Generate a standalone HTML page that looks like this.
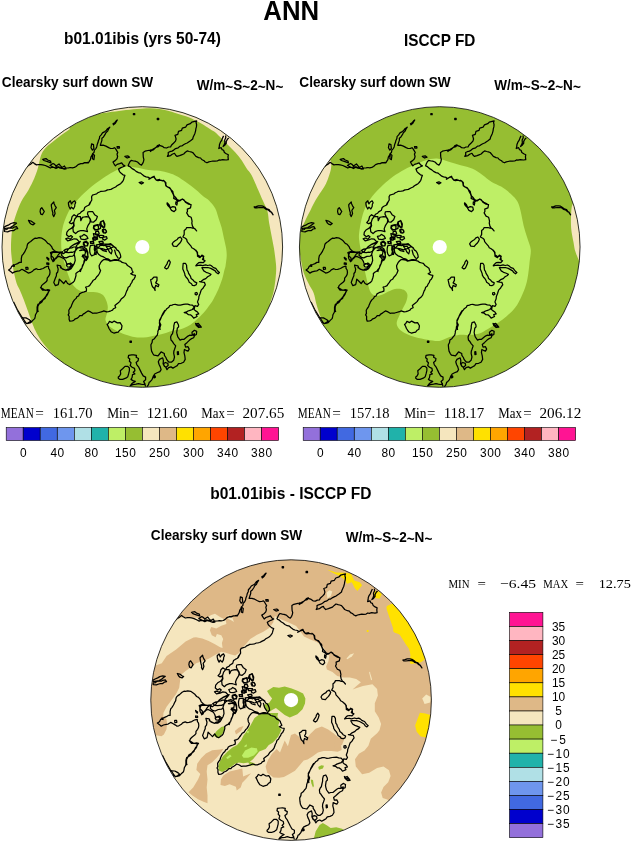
<!DOCTYPE html><html><head><meta charset="utf-8"><title>ANN</title><style>html,body{margin:0;padding:0;background:#fff}svg{display:block}.b{font-family:"Liberation Sans",sans-serif;font-weight:bold;fill:#000}.s{font-family:"Liberation Serif","DejaVu Serif",serif;fill:#000}.n{font-family:"Liberation Sans",sans-serif;fill:#000}</style></head><body><svg width="632" height="841" viewBox="0 0 632 841">
<clipPath id="clip"><circle r="140.3"/></clipPath>
<rect width="632" height="841" fill="#fff"/>
<text class="b" x="263.3" y="19.6" font-size="28.2" textLength="55.8" lengthAdjust="spacingAndGlyphs">ANN</text>
<text class="b" x="64" y="44.4" font-size="15.8" textLength="156.9" lengthAdjust="spacingAndGlyphs">b01.01ibis (yrs 50-74)</text>
<text class="b" x="404.1" y="46.2" font-size="15.9" textLength="71.2" lengthAdjust="spacingAndGlyphs">ISCCP FD</text>
<text class="b" x="1.8" y="87.2" font-size="14.8" textLength="151.4" lengthAdjust="spacingAndGlyphs">Clearsky surf down SW</text>
<text class="b" x="196.7" y="89.6" font-size="14.8" textLength="86.6" lengthAdjust="spacingAndGlyphs">W/m<tspan dy="2.2">~</tspan><tspan dy="-2.2">S</tspan><tspan dy="2.2">~</tspan><tspan dy="-2.2">2</tspan><tspan dy="2.2">~</tspan><tspan dy="-2.2">N</tspan><tspan dy="2.2">~</tspan></text>
<text class="b" x="299.3" y="87.2" font-size="14.8" textLength="151.4" lengthAdjust="spacingAndGlyphs">Clearsky surf down SW</text>
<text class="b" x="494.2" y="89.6" font-size="14.8" textLength="86.6" lengthAdjust="spacingAndGlyphs">W/m<tspan dy="2.2">~</tspan><tspan dy="-2.2">S</tspan><tspan dy="2.2">~</tspan><tspan dy="-2.2">2</tspan><tspan dy="2.2">~</tspan><tspan dy="-2.2">N</tspan><tspan dy="2.2">~</tspan></text>
<text class="b" x="150.8" y="540.2" font-size="14.8" textLength="151.4" lengthAdjust="spacingAndGlyphs">Clearsky surf down SW</text>
<text class="b" x="345.7" y="542" font-size="14.8" textLength="86.6" lengthAdjust="spacingAndGlyphs">W/m<tspan dy="2.2">~</tspan><tspan dy="-2.2">S</tspan><tspan dy="2.2">~</tspan><tspan dy="-2.2">2</tspan><tspan dy="2.2">~</tspan><tspan dy="-2.2">N</tspan><tspan dy="2.2">~</tspan></text>
<text class="b" x="210.2" y="499.1" font-size="15.8" textLength="161.2" lengthAdjust="spacingAndGlyphs">b01.01ibis - ISCCP FD</text>
<g transform="translate(142.3,247.0)"><g clip-path="url(#clip)"><circle r="141.3" fill="#96BE32"/><path d="M-72.3,-118C-74.8,-116.2 -82.8,-110.7 -87.3,-107C-91.8,-103.3 -96.6,-100.3 -99.5,-95.6C-102.4,-90.8 -103.1,-83 -104.5,-78.5C-105.9,-74 -106.6,-72.1 -108.1,-68.5C-109.7,-64.9 -111.7,-60.8 -113.8,-57C-115.9,-53.2 -118.8,-50 -120.9,-45.7C-123,-41.4 -125.1,-36.2 -126.6,-31.4C-128.2,-26.6 -129.4,-22.4 -130.2,-17.1C-131,-11.8 -131.3,-4.3 -131.3,0.6C-131.3,5.5 -130.8,8.5 -130.4,12.5C-130,16.5 -129.4,20.4 -128.6,24.3C-127.8,28.3 -126.7,33.1 -125.7,36.2C-124.7,39.3 -123.7,40.3 -122.5,43C-121.3,45.7 -119.9,49.1 -118.6,52.5C-117.3,55.9 -115.9,59.9 -114.6,63.6C-113.3,67.3 -112,71.2 -110.7,74.6C-109.4,78 -108.3,80.9 -106.7,84.1C-105.1,87.3 -103.2,90.7 -101.2,93.6C-99.2,96.5 -97.2,98.9 -94.8,101.5C-92.4,104.1 -90.1,106.6 -86.9,109.5C-83.7,112.4 -77.7,117.4 -75.8,119L-98,153.8L-196.4,196.4L-196.4,-196.4L-95.3,-155.5Z" fill="#F5E6BE"/><path d="M-42.3,-133.5C-34,-134.4 -5.9,-138.9 7.7,-138.7C21.3,-138.5 31.4,-134.3 39.3,-132.1C47.2,-129.9 49.9,-128.3 55.2,-125.6C60.5,-122.9 67.3,-118.4 71,-115.9C74.7,-113.4 74.9,-112.7 77.3,-110.4C79.7,-108.2 82.6,-105.1 85.2,-102.4C87.8,-99.8 90.7,-97.1 93.1,-94.5C95.5,-91.9 97.7,-89.2 99.5,-86.6C101.3,-84 102.6,-81.2 104.2,-78.7C105.8,-76.2 107.4,-75.3 109.3,-71.8C111.2,-68.3 113.8,-61.7 115.7,-57.5C117.6,-53.3 118.9,-50.1 120.5,-46.4C122.1,-42.7 124.1,-39.1 125.2,-35.4C126.2,-31.7 126.1,-28.3 126.8,-24.3C127.5,-20.3 128.4,-15.8 129.2,-11.6C130,-7.4 130.9,-3 131.6,1C132.2,5 132.7,8.7 133.1,12.1C133.5,15.5 133.9,18.1 133.9,21.6C133.9,25.1 133.5,29.1 133.1,33C132.6,36.9 132.1,41.1 131.2,45C130.3,48.9 128.3,54.6 127.7,56.5L166.8,73.8L196.4,196.4L196.4,-196.4L-55.1,-173.9Z" fill="#F5E6BE"/><path d="M-17.4,-80.3C-14,-80.8 -10.3,-80 -6.3,-79.5C-2.4,-79 2.4,-77.6 6.3,-77.1C10.2,-76.6 13.8,-76.8 17.2,-76.3C20.6,-75.8 23.8,-74.9 26.7,-74C29.6,-73.1 31.7,-72.4 34.6,-70.8C37.5,-69.2 40.9,-66.8 44.1,-64.5C47.3,-62.2 50.7,-59.7 53.6,-57.3C56.5,-54.9 59.3,-52 61.5,-50.2C63.7,-48.4 64.8,-48.4 66.7,-46.4C68.6,-44.5 71.4,-41.4 73,-38.5C74.6,-35.6 75.1,-32.2 76.2,-29C77.2,-25.8 78.4,-22.9 79.3,-19.5C80.2,-16.1 80.9,-11.9 81.7,-8.5C82.4,-5.1 83.3,-1.9 83.8,1C84.2,3.9 84.5,6.1 84.4,9C84.3,11.9 83.6,16.2 83.3,18.4C83,20.6 83,19.7 82.4,22C81.8,24.3 80.9,28.7 79.9,32.1C78.8,35.5 77.6,38.8 76.1,42.2C74.6,45.6 72.7,49.4 71,52.4C69.3,55.4 67.6,57.7 65.9,60C64.2,62.3 62.8,64.2 60.9,66.3C59,68.4 56.6,70.7 54.5,72.6C52.4,74.5 50.5,76.2 48.2,77.7C45.9,79.2 43.4,80.5 40.6,81.5C37.8,82.5 34.3,82.9 31.5,83.6C28.7,84.3 26.5,85.1 23.6,85.9C20.7,86.7 17.3,87.6 14.1,88.3C10.9,89 7.8,89.8 4.6,90.2C1.4,90.6 -2.2,90.7 -4.9,90.5C-7.6,90.3 -8.9,89.9 -11.6,89.2C-14.3,88.5 -18.2,87.3 -21.1,86.1C-24,84.9 -26.8,83.6 -29,82.1C-31.2,80.7 -33.2,79 -34.5,77.4C-35.8,75.8 -36.8,74.5 -36.9,72.6C-37,70.8 -35.7,68.4 -35.3,66.3C-34.9,64.2 -34.4,62.1 -34.5,60C-34.6,57.9 -35.3,55.6 -36.1,53.6C-36.9,51.6 -37.9,49.5 -39.3,48.1C-40.8,46.7 -42.6,45.9 -44.8,45.4C-47,44.9 -50.3,45 -52.7,44.9C-55.1,44.8 -57.1,45.3 -59.1,44.9C-61.1,44.5 -62.8,43.9 -64.6,42.6C-66.4,41.3 -68.7,39.1 -70.1,37C-71.6,34.9 -72.2,32.7 -73.3,29.9C-74.4,27.1 -75.6,23.3 -76.5,20.4C-77.4,17.5 -78.2,15.4 -78.9,12.5C-79.6,9.6 -80.5,6.6 -80.8,3C-81.2,-0.6 -81.2,-5.3 -81,-9C-80.8,-12.7 -80.5,-15.7 -79.7,-19.1C-79,-22.5 -77.8,-26 -76.5,-29.2C-75.2,-32.4 -73.9,-35.3 -72.1,-38.1C-70.3,-40.8 -68.1,-43.1 -65.8,-45.7C-63.6,-48.2 -61.7,-50.5 -58.6,-53.4C-55.6,-56.3 -51.2,-60 -47.5,-62.9C-43.8,-65.8 -39.8,-68.6 -36.4,-70.8C-33,-73 -30.1,-74.7 -26.9,-76.3C-23.7,-77.9 -20.8,-79.8 -17.4,-80.3Z" fill="#BEEF66"/><circle r="7.1" fill="#fff"/><path d="M-115.3,-80.2 -113.9,-81.6 -111.8,-82.7 -109.6,-84.7 -107.9,-83.4 -105.8,-82.1 -103.6,-82.5 -101.4,-82.4 -99.6,-82.2 -97,-81.5 -94,-80.1 -91.9,-79 -90.4,-79.7 -87.7,-79.5 -86.3,-79.8 -84.3,-80.2 -82.9,-79.2 -80.5,-78.6 -78,-78.3 -76.4,-79 -73.7,-79.1 -71.9,-79.5 -70,-79.2 -67.9,-79.6 -66.2,-80.5 -64.2,-82.4 -61.5,-83.4 -59.7,-83.5 -57.7,-84.3 -56,-84.4 -53.9,-84.7M-61.7,-83.5 -59.5,-83.3 -57.7,-84.2 -55.4,-84.1 -53.8,-84.2 -52.9,-85.8 -51.9,-87.4 -51.4,-89.8 -50.3,-91.6 -49.7,-93.2 -48.3,-94.5 -47.9,-96.9 -46.4,-98.4 -45.6,-100.1 -45.1,-102.4 -44.3,-104.4 -43.9,-106.3 -42.8,-108.7 -42.7,-110.4 -41.1,-112.1 -39.8,-114.1 -37.5,-115.4 -36.3,-116.2 -34.8,-118.3 -32.5,-119.8 -33.8,-117.8 -34.6,-115.9 -36.4,-114.3 -37.2,-112.6 -38.8,-110.1 -40.4,-108.8 -40.4,-106.6 -41.4,-103.6 -42,-101.7 -39.2,-101.8 -36.4,-100.9 -33.6,-99.4 -31.7,-98.5 -29.3,-98.6 -27.7,-99.3 -26.5,-97.9 -25.3,-95.9 -24.5,-94.5 -25.3,-92.9 -24.7,-90.5 -25.3,-88.2 -27.1,-86.4 -29.3,-85 -28.3,-83.2 -26.9,-81.1 -25.2,-82.6 -22.7,-83.4 -20.6,-84.2 -19.2,-82.1 -17.4,-81.1 -19.7,-80 -21.3,-79.4 -23.8,-77.9 -22.8,-75.4 -21.4,-74 -19.3,-72.2 -17.4,-71.6 -18.1,-69.8 -18.6,-67.7 -19.1,-66.4 -20.6,-64.5 -21.7,-63.3 -23.3,-62.4 -25.3,-61.3 -26.7,-60 -28.9,-59 -31.4,-57.6 -33.2,-57.3 -34.8,-57.1 -36.8,-56.1 -38.5,-55.9 -41.4,-55.7 -42.7,-55 -44.5,-54.2 -45.7,-53.1 -47.8,-52.5 -49.9,-51.8 -50.7,-50.2 -50.5,-47 -51.4,-45.5 -52.1,-44.1 -53,-42M-50.7,-103.2 -48.8,-102.4 -48.7,-100.9 -48.4,-98.5 -49.9,-96.9 -51.3,-99.3 -50.9,-101.7ZM-49.5,-92.9 -47.8,-91.7 -48.4,-87.4 -49.9,-88.2ZM-29.3,-123.3 -27.3,-124.6 -26.1,-126.2 -25,-127 -26.9,-123.8 -28.8,-122.2ZM-8.9,-133.5 -7.6,-133.5 -7.6,-132.3 -8.9,-132.3ZM15.2,-128.6 16.4,-128.6 16.4,-127.4 15.2,-127.4ZM-17.4,-90.6 -14.3,-91.1 -12.7,-89.8 -15.1,-89ZM-25.3,-100.5 -23,-100.5 -22.8,-99 -25,-99ZM-14.3,-81.1 -13.5,-82.9 -12.4,-85.2 -11.1,-86.6 -8.7,-86 -7.1,-85.8 -4.8,-85 -2.5,-82.8 -0.8,-81.9 0.5,-83.8 1.2,-85.6 1.6,-87.4 1,-89.8 0.9,-91.6 0.8,-94.5 2.7,-95.8 5.7,-96.5 7.9,-96.9 10.1,-97.5 12.6,-98.9 13.9,-99.7 15.3,-101.5 17.7,-102.4M-14.3,-81.1 -12.3,-80.3 -9.7,-78.1 -7.9,-77.1 -6.2,-75.6 -3.8,-74.4 -1.6,-73.9 0,-72.4 2,-70.8 3.8,-70.1 6.4,-69.6 7.9,-68.4 10.1,-70 11.8,-70.8 12.5,-68.6 14.2,-66.8 17.7,-67.6M-3.2,-64.5 -0.8,-65.1 1.2,-64.2 -0.8,-62.9ZM7.7,-95.3 9.6,-96.7 10.8,-97 12.4,-98.5 13.5,-99.7 16.1,-100.4 17.2,-101.7 20.1,-100.7 21.9,-99.3 24.3,-99 26.2,-100 28.3,-100.1 29.1,-101.8 31.4,-104 33.2,-105.9 33.8,-108 33.2,-110.2 32.7,-111.6 35.5,-112.6 36.2,-115.7 39.3,-116.7 40,-118.9 43.3,-119.8 44.7,-122.1 48,-123.3 49.5,-124.9 52.4,-125.7 54.4,-126.2 53.8,-124.5 54.3,-122.4 54.1,-120.1 53.6,-118.3 53.3,-116.2 52.6,-113.6 51.9,-112.1 50.8,-109.7 50.4,-108 48.2,-106.3 46.7,-105.3 44.9,-104 43.5,-103.5 41.6,-102.5 39.5,-101 37.8,-100.9 35.9,-99.2 33.3,-98.4 31.4,-96.9 29.7,-95.9 27.5,-95.3 25.9,-94.5 26,-92.4 25.1,-90.6 28.3,-91.4 29.9,-92.7 32.2,-93.7 33.2,-92 34.6,-90.6 37.3,-91.4 39.3,-92.2 41.4,-93 43.1,-94.7 44.9,-96.1 46.9,-95.5 48.6,-95.1 50.4,-94.5 52.4,-92.1 53.6,-90.6 56.3,-89.4 58.3,-89 59.4,-87.5 61.8,-86.3 62.5,-85.3 64.7,-84.2 66.5,-85.1 68.3,-85.5 70.7,-86 72.6,-85.8 75,-86 76.7,-87.1 78.2,-86.8 80.5,-87.4 83.9,-87 86,-87.4 85.7,-90.3 86,-92.2 84,-93.2 82.1,-94.5 81.3,-96.7 79.7,-97.4 78.9,-99.3 76.5,-98.5 77,-100.4 77.2,-102.6 78.1,-104.8 79.2,-106.3 80.2,-108.9 81.3,-111.1M83.3,-111.5 83.5,-109.3 82.4,-107 82.6,-104.1 81.8,-102.4 80.8,-100.5 82.4,-101.7 84,-103.8 83.9,-105.4 85.1,-107.8 86.5,-109.1M15,-128.7 16.2,-128.7 16.2,-127.4 15,-127.4ZM6.1,-67.6 7.7,-68.4 9.2,-69.3 11.7,-70 13.2,-68.2 14,-66.8 15.7,-66.3 18.4,-66.8 20.2,-66.1 21.9,-66.1 23,-64.4 23.5,-61.3 24.9,-60.1 27.3,-59.4 28.3,-58.1 29.5,-55.3 30.6,-53.4 31.6,-50.7 31.4,-48.6 34.1,-47.2 35.4,-45.5 37.5,-46.6 40.1,-47.9 42.5,-45.9 44.1,-44.7 46.2,-43.8 48.8,-42M111.8,-40.1 113.9,-40.4 116.1,-41.2 118.9,-41.2 120.8,-40.8 122.8,-39.5 124.5,-38.1 126.8,-37.3 127.9,-35.8 129.3,-34.4 130.8,-32.2 129.2,-34.9 127.7,-35.4 125.7,-37.2 123.7,-37.6 122.1,-39 120.2,-39.5 117.4,-39.5 114.5,-39.1 112.6,-39.2ZM20.4,-67 22,-65.8 23.5,-64.5 23.7,-62.1 24.2,-60.7 26.5,-59.4 28,-58.1 30.5,-55.6 30.9,-53.2 31.8,-51.2 33.3,-49.5 34.9,-47.4 37.4,-46.1 40,-48 41.6,-47.1 43.1,-44.8 46.3,-42.9 48.8,-42.3 48.2,-39.2 45,-37.9 45.2,-35.7 44.4,-34.1 46.3,-30.9 48.8,-29.7 49.3,-28.1 49.8,-25.6 49.5,-24 50.1,-21.1 51.4,-18.9 52.8,-17.9 54.3,-16.1 52.3,-18.5 50.2,-18.8 48.2,-19.5 44.4,-19.5 43.5,-17.7 41.9,-16.4 41.9,-12.6 40.6,-10 43.1,-8.7 44.4,-7.5 44.9,-5.3 46.3,-3.7 48.5,-1.2 49.5,0.7 51.4,1.7 53.3,3.3 54.7,5.1 55.2,7.7 57.7,9.6 60.9,8.9 61.2,11 61.5,13M24.8,-44.2 26.7,-42.3 28,-39.2 30.5,-40.4 33,-39.8 33.6,-37.3 31.8,-35.4 29.2,-36.6 27.3,-39.8 25.8,-41.1 24.8,-42.9ZM33.6,-45.2 35,-44.2 34.5,-41.9 33.4,-42.9ZM29.9,-3.1 30.9,-4.8 32.8,-6.3 34.9,-7.5 35.8,-8.9 38.1,-10 39.6,-7.8 38.9,-5.9 37.4,-3.7 35.8,-2.2 34.3,-0.5 31.1,-0.9ZM53.3,3 55.2,5.5 55.2,9.3 57.7,10.6 59.6,8.1 61.5,9.3 60.2,12.5 62.8,13.8 60.9,15.7 58.5,15.4 56.4,15.7 54.5,17.4 53.5,18.8 55.7,18.4 58.3,18.2 60.4,18.7 63.4,17.9 65.4,18.5 67.6,18 69.1,18.8 71.2,20.6 73.5,21.4 75.4,24 77.1,25.5 75.8,26.8 74,25.6 72.9,23.9 70.3,22.4 68.5,21.4 65.6,20.5 63.4,20.5 61.1,20.5 59.6,20.7 61.5,23.9 63.8,25.3 65.9,26 68.7,27.3 67.6,28.5 65.3,29.8 63.5,31.6 60.9,32.7 59,34.3 57.3,34.6 59.9,35.1 62.1,35.3 63,37.8 61.7,39.5 60.9,41 59,42.9 58.5,44.3 57.7,46.7 56.6,49.4 56.4,51.7 55.2,54.9 56.4,57.4 55.2,59.3 52.6,58.7 52.2,60.6 51.8,62.5 53,63.6 55.2,65 56.4,66.9 53.9,67.6 54.8,69.5 51.4,71.1 50.2,69.5 48.2,67.8 46.2,67.7 44.4,66.2 41.9,65.7 44.3,64.9 45.7,64 47.8,63.3 50.1,62.5 52,60 50.1,58.1 47.6,57.8 45.4,57.1 43.1,57.2 41.1,57.4 38.1,58.1 35.8,58.2 33,57.4 31.2,57.5 29.7,58.1 27.3,58.7 26.6,60.3 24.5,61.7 23.5,63.1 22.2,64.7 21,66.9 19.7,68.8 18.7,70.6 17.2,73.3 17.3,75.3 18.5,77.7 17.5,80.9 17.8,83M52.9,45.8 54.5,45.5 55.2,47.1 53.9,48.1 52.8,47.3ZM40.9,16.3 43.1,16.3 44.3,18.3 44.4,20.7 44.8,23.2 45.7,24.3 46.3,26.4 48.2,29.4 48.8,31.5 50.7,32.9 52,34.6 54.5,35.9 53.9,37.8 52.1,38.6 50.1,38.4 49.2,36.8 46.9,35.3 46.2,33.4 45.1,31.5 43.8,30.2 42.6,28.1 42.5,26.9 41.6,24.5 40.5,22.1 40.6,19.5ZM22.3,20.7 23.3,19 24.8,16.9 25.3,15 26.7,13.1 28,15 27.4,17.3 26.7,18.8 25.7,21 24.2,22ZM8.3,32.7 9.9,32 11.5,30.2 14.7,30.2 14.7,33.4 13.4,35.9 16.6,37.8 15.9,39.7 13.4,38.4 12.5,41.2 12.8,43.5 12,41.5 10.2,39.7 9.5,38 9,35.9ZM53.3,76.4 55.3,78 57.7,78.3 59,80.2 56.4,80.5 53.9,78.3ZM49.7,85.2 52.1,83.3 54.4,84.4 54.1,87.5 51.8,88.6 49.9,87.5ZM54.4,76.9 56,76.4 58.1,78.8 57.3,80.4 55.5,79.1ZM-12.3,94 -10.9,94 -10.9,95.3 -12.3,95.3ZM-41.7,15.7 -40.3,14 -38.5,12.5 -36.8,12.6 -33.8,13.2 -32.2,14.1 -29.8,13.6 -28.5,13.4 -26.5,13.5 -24.3,13.3 -21.8,14.1 -20.2,15.4 -18,16 -16.4,16.4 -14.8,18.5 -13.2,19.5 -10.8,21.2 -10.3,23.2 -9.2,25.2 -11.6,26.7 -9.2,27.9 -6.9,28.3 -7.2,29.9 -8.4,32.3 -9.7,33.3 -10.4,35.3 -11.6,37 -12.6,39.2 -14.1,40.2 -14.8,42.6 -15.7,44.1 -16.4,46.1 -17.1,48.1 -18.5,50 -21.1,52.1 -22.7,54.6 -24.3,56 -25.6,57 -27.4,58.4 -26.6,60.8 -28.9,61.8 -29.8,63.1 -31.4,63.8 -33.8,64.7 -35.7,64.8 -38.5,63.9 -40.3,64.7 -43.2,65.5 -45.1,66 -47.9,66 -49.6,66.3 -51.7,64.9 -54.3,63.9 -55.9,65.1 -57.3,66.1 -59.1,67.1 -60.2,68.5 -62.3,68.5 -63.8,70.2 -65.5,71.4 -67,71.8 -68.6,73.4 -70.2,74 -72.5,74.2 -73.2,72.2 -73.1,69.5 -74.1,67.9 -73.3,66.4 -73.5,63.3 -72.5,61.5 -71.1,59.7 -70.6,57.9 -69.4,55.2 -67.9,52.9 -66.2,51.4 -65.4,49.7 -63.7,49 -62.8,46.9 -60.7,45.7 -58.1,44.9 -55.9,44.1 -55.8,41.8 -56.7,40.2 -54.4,39.5 -52.7,38.6 -51.6,36.9 -50.4,35.4 -49,33.2 -47.2,32.3 -45.5,29.7 -44,28.3 -42.8,26.3 -41.7,23.6 -42.8,21.6 -43.2,18.8ZM-52,-45 -53.6,-41.8 -55.9,-40.7 -57.6,-39.5 -58.4,-36.7 -61.1,-35.1 -62.1,-33.8 -64.3,-32.7 -65.5,-30.4 -68.2,-32.3 -70.2,-30.4 -71,-26.8 -73,-24.4 -71,-23.2 -69,-24.4 -68.6,-21.3 -70.6,-18.9 -73.4,-17.3 -75.4,-14.9 -75.8,-12.2 -73.4,-10.2 -71.4,-11.4 -69.8,-10.2 -71.8,-7.8 -74.6,-9 -76.6,-8.2 -74.6,-6.2 -71,-7 -68.2,-8.2 -65.5,-7.8 -63.1,-5.4 -64.7,-3.9 -67.9,-2.7 -71,-0.7 -73.4,1.7 -76.6,2.5 -78.9,4.1M-65.5,-30.4 -61.9,-30.4 -61.7,-28.3 -61.5,-26.4 -59.9,-29.6 -58.3,-30 -56,-30.4 -53.6,-30 -52,-27.2 -52.4,-24.4 -54.4,-21.3 -55.6,-18.1 -54.8,-15.3 -57.6,-16.1 -59,-16.4 -61.5,-16.5 -64.7,-15.3 -66.7,-13.4 -69,-15.3 -69.4,-18.9 -68.2,-21.3 -68.6,-24.4 -67.5,-28ZM-54.4,-35.1 -52.1,-35.5 -49.7,-35.5 -47.7,-32.3 -44.9,-30.4 -46.1,-27.2 -48.9,-24.8 -51.2,-25.2 -52,-28 -53.6,-30.4 -54.8,-33.1ZM-62.3,-10.6 -59.9,-11.2 -58.4,-12.6 -55.6,-11 -54.4,-8.6 -57.6,-7.4 -61.1,-7.8ZM-58.8,-4.7 -56,-5.8 -54,-3.9 -54.8,-1.1 -57.6,-1.5ZM-41.7,-25.2 -39,-26.4 -37.8,-21.3 -38.6,-18.9 -41,-21.3 -42.5,-22.8ZM-48.5,-21.3 -45.7,-22.1 -43.7,-20.5 -44.1,-17.3 -47.3,-16.9 -48.9,-18.9ZM-39.4,-17.3 -37,-17.7 -35.8,-14.9 -38.2,-13.8ZM-48.9,-13.4 -44.1,-12.6 -44.5,-10.2 -48.1,-10.2ZM-49.7,-9 -46.1,-9 -46.5,-7 -49.3,-7ZM-43.3,-11.8 -38.6,-11.4 -39,-9.4 -42.5,-9.4ZM-52,-5.4 -48.9,-5.4 -49.3,-3.5 -51.6,-3.5ZM-45.5,1.2 -43.7,0.3 -42.4,-1.4 -40.7,-1.9 -38.3,-1.3 -36.7,-2 -34.8,-2.7 -31.6,-3.3 -29.8,-1.7 -28.4,-0.6 -26.5,1.2 -25.2,3.1 -24.1,3.6 -22.7,5.6 -21.9,7.7 -21.5,10 -22.7,11.2 -24,13.2 -26.1,12.5 -27.8,12.6 -29.4,13.1 -31.6,13.8 -33.6,12.2 -36.7,11.3 -38.7,9.9 -41.7,8.8 -43.8,7.2 -44.9,5.6 -45.5,2.9ZM-51.9,-1.4 -50.3,-1.6 -48.1,-2 -47.1,0 -46.8,2.4 -47.4,5.5 -47.4,7.5 -50.6,8.8 -51.9,7.2 -52.5,5 -52.6,2.3 -52.5,1.2ZM-79.3,4.6 -81.8,5.3 -85.6,5.3 -88.1,3.4 -89.8,1.8 -90.7,-0.4 -92.6,-2.7 -94.5,-3.6 -96.6,-6.2 -98.3,-7.4 -100.4,-8.8 -103.3,-9.3 -105.6,-8.7 -107.1,-8.9 -109,-7.8 -111.6,-5.5 -113.2,-4.5 -114.7,-3 -115.2,-1.2 -115.4,0.5 -116.6,2.7 -117.6,4.9 -119.1,7.2 -120.4,8.7 -121,11.6 -121,15.4 -122.8,15.4 -124.8,16.6 -127,17.5 -128.6,17.9 -130.5,19.3 -131.6,21.6 -133.7,23 -131.3,24.8 -129.9,26.1 -127.7,24.9 -124.8,24.2 -123,24 -120.4,22.3 -117.9,23.6 -115.6,25 -114.1,26.1 -112.3,25.7 -109.7,24.2 -108.5,22.8 -105.9,21.7 -104.3,22.5 -102.1,22.3 -99.3,21.5 -97.6,20.4 -96,19.7 -93.8,19.2 -93.7,21.4 -92.6,23 -92.3,25.4 -92.6,27.4 -93.5,29.2 -95.1,31.2 -95.2,33.5 -96.4,35 -98.9,36.9 -100.7,38.6 -101.4,40.7 -98.3,42.6 -96.9,43.3 -94.5,42.7 -92.6,43.2 -94.2,45.3 -94.5,47 -95.7,48.8 -97.6,50.8 -99.1,52.5 -100.8,54 -102.3,55 -103.3,57.2 -104.4,59.2 -104.6,60.9 -104.6,63.3 -104,65M-116.5,20.4 -114.5,20.4 -114.2,22.2 -116.2,22.5ZM-129.1,17.9 -127.9,18.2 -128.1,19.4 -129.3,19.2ZM-95.5,10.3 -93.5,11.8 -93.7,13.1 -95.2,11.6ZM-95.5,15.9 -93.5,16.1 -93.5,17.4 -95.5,17.2ZM-85.6,5.3 -87.6,5.1 -90,5.3 -91.3,8.4 -88.8,10.9 -88.8,12.8 -89.4,14.7 -88.1,13.8 -87,11.4 -85.6,10.3 -84.8,9 -83.5,7 -81.8,5.9M-91.9,5.5 -89.2,4.6 -87.4,4.4 -84,5.2 -81.9,5 -78.6,6.6 -77.4,5.5 -75.3,4.4 -74.2,2.4 -72.5,1.1 -70.5,0.8 -68.6,0 -66.5,-0.1 -64.2,0.5 -61.8,1 -59.8,1.1 -57.6,2.6 -55.9,3.3 -54.8,6.6 -54.2,9.9 -55.9,13.3 -57.5,12.1 -58.2,13.9 -58.6,16.6 -59.8,18.4 -60.3,21 -61.7,22.5 -63.1,24.3 -64.6,25 -66.4,26.5 -66.3,28.5 -67,31 -67.9,33.8 -69.2,35.4 -70.7,36.3 -72.5,37.6 -74.7,36.5 -76.4,33.7 -78.6,36.5 -80.8,34.3 -83,32.1 -83.6,35.6 -84.1,37.6 -86.9,38.7 -88.5,35.4 -87.8,33.5 -86.9,31 -85.9,28.7 -85.8,26.5 -84.6,25 -84.1,22.1 -84.8,19.9 -85.2,18.2 -81.9,18.8 -80.9,21 -79.7,22.1 -76.4,23.2 -74.8,22 -72.5,21.6 -71.7,19.7 -69.7,17.7 -71.9,16 -75.3,17.7 -76.4,14.4 -77.7,12.2 -79.7,11 -83,9.4 -84.9,10 -86.3,11.6 -88.2,12.3 -89.7,13.8 -90.9,11.7 -91.3,9.9 -91,8.1ZM-102,40 -100.9,41.7 -99.7,43.2 -97.6,43.1 -95.7,43.2 -93.3,44 -94.2,46 -95.4,47.3 -96.5,49.5 -97.2,51.5 -99.1,52.8 -100.4,55 -102,56.2 -104.4,57.4 -105.2,60.2 -105.2,62.9 -105.3,65 -106.8,67.7 -107.1,69.7 -107.6,71.6 -109.3,73.1 -111.5,75.6 -114.1,76.4 -116.3,76.4M-121.5,71 -119.2,70.8 -116.3,70.9 -114.2,72 -112.9,72.8 -111.5,74 -113.3,75.4 -115.5,76.7 -117.5,75.3 -119,75.1 -120.2,73.5ZM-91,-42.4 -88.5,-45 -88.2,-43.3 -87.2,-41.2 -86,-39.3 -87.9,-36.7 -87.2,-33.6 -88.5,-30.4 -89.6,-32.5 -89.4,-34.2 -90.1,-36.4 -90.4,-38 -90.9,-40.6ZM-101.8,-38 -100.5,-39.3 -99.4,-37.7 -98,-35.5 -99.9,-32.3 -101.5,-32.9 -102.2,-35.5ZM-113.8,-26.6 -111.3,-26 -109.1,-24.4 -107.5,-23.5 -109.1,-22.2 -111.2,-22.9 -112.6,-24.3ZM-138.5,-19.7 -136,-21.1 -133.4,-22.2 -131.3,-23.5 -128.4,-24.3 -125.8,-23.8 -128.1,-22.1 -129.6,-20.9 -132,-19.5 -134.7,-19 -137.9,-18.4ZM-137.9,-17.1 -135.4,-17.5 -134.6,-18.6 -132.2,-19 -129.5,-19 -128.4,-19.8 -125.8,-20.3 -124.6,-18.4 -126.6,-18 -128.4,-16.5 -130.7,-16.5 -132.3,-16.1 -134.7,-15.2 -137.9,-15.5ZM-73.9,-44.3 -72,-46.2 -70.8,-43.1 -69.5,-45 -67.6,-46.2 -66.6,-44.3 -67.4,-42.8 -67.6,-40.5 -68.9,-38 -70.8,-39.9 -72,-38 -73.3,-40.5 -73.8,-42.7ZM-99.6,-87.7 -96.3,-88.4 -94.6,-87 -91.8,-86 -91.3,-84.1 -94.8,-85.3 -98.3,-86.5ZM-92.3,-81.5 -89.3,-83.5 -87.7,-82.6 -86.3,-81 -83.3,-83 -81.9,-81.3 -80.3,-79.5 -77.8,-81 -76.3,-78 -78.1,-77.8 -80.3,-78.5 -83.3,-80 -86.3,-78.5 -89.3,-80ZM-41.5,-24.9 -39,-26.5 -37.4,-23 -37.7,-19.9 -39.6,-20.5 -41.2,-22.4ZM-48.1,-20.5 -44.7,-22.4 -41.5,-21.5 -41.8,-18.6 -44.7,-17.3 -47.2,-17.7 -48.5,-18.9ZM-39.9,-17.3 -37.1,-17.7 -35.8,-15.8 -36.7,-13.9 -39,-14.2 -39.9,-15.8ZM-49.1,-9.7 -45.3,-10.1 -44.7,-7.8 -47.8,-7.2 -49.4,-8.2ZM-51.6,-5.3 -48.8,-5.6 -48.5,-3.7 -51,-3.4ZM-39.6,-9.7 -35.8,-10.4 -35.2,-8.5 -37.7,-6.9 -39.6,-7.8ZM-43.4,-5.3 -39.6,-5.9 -39,-4.1 -42.1,-3.4ZM-46.6,-15.4 -44,-15.8 -43.1,-13.5 -44.7,-11.6 -46.9,-12.3ZM-45.9,-2.2 -41.5,-2.8 -35.2,-2.8 -30.1,-1.8 -26.3,1 -28.8,-0.3 -32.6,1.6 -36.4,2.9 -40.2,1.6 -44.7,1ZM3.3,139.6 2.5,136.8 1.3,134.4 3.3,132.8 3.3,130.1 0.9,128.9 -0.7,126.1 -2.3,122.9 -3.8,119.8 -5.4,117.8 -6.2,115.4 -4.2,113.8 -3.8,111.5 -6.2,110.3 -5.8,108.3 -8.6,107.8 -10.6,107.9 -13.7,108.3 -14.1,110.7 -12.5,111.9 -12.9,114.2 -11.3,115.8 -12.1,118.6 -10.2,120.2 -7.8,121.4 -7.4,123.7 -9,125.3 -7.4,126.9 -9.8,127.7 -10.2,130.5 -11.3,132.4 -9.4,133.6 -7,134.4 -9,135.6 -10.6,136.8 -12.1,138.8 -9.4,137.6 -6.2,137.2 -3.8,136.6 -1.5,137.2 0.4,137.5 3.3,137.2M-24,130.1 -22.7,129 -21.6,126.9 -22,123.7 -19.7,121.8 -17.3,119.4 -14.5,119.4 -12.9,121 -12.9,123.7 -13.7,126.9 -14.5,129.7 -16.5,131.2 -19.7,132.4 -22.4,132.4 -24,131.2ZM11.4,129.3 12.6,129 12.9,130.4 11.8,130.9ZM22.8,63 21.6,64.8 20.7,66.4 19.6,68.5 18.9,70.5 18.1,72.4 17.3,74.1 17.1,76 17.4,78.2 16.7,79.7 16.5,82 15.6,84.3 15.5,85.9 14.9,88.3 13.6,89.6 12.1,91.7 10.1,93.1 9.8,95.5 8.6,97.8 8.7,99.4 8.9,101.6 9.3,104.1 10.5,106.5 11.7,108.1 13.3,108.4 15.7,108.9 17.2,107 18.8,104.9 22,106.5 22.1,108.3 23.6,110.5 24.5,112.7 25.6,114 26.8,115.2 29.1,115.2 31.4,113.2 32.2,110 31.4,106.4 31.6,103.9 32.2,102.5 33.4,98.9 31.4,96.6 29.9,94.2 28.7,93 28.3,89.9 29.3,87.6 30.2,86.7 30.7,84.4 31.5,81 31.5,78.8 32.3,75.7 34.7,74.9 36.2,78 36.3,79.9 35,81.3 34.7,83.6 34.4,85.5 34.8,87.5 35.5,89.9 36.9,91.8 37.8,93.1 39.5,92.4 41.8,92.3 43.6,90.8 45.7,89.1 47.3,88.2 49.7,88.3 52.1,86.7 52,89.2 51.3,90.7 48.8,91.9 47.3,93.1 44.9,95.4 42.5,97.4 43.3,100.1 45.7,99.7 46.9,102.1 45.7,104.1 43.7,103.3 42.1,102.5 41.7,105.7 42.5,108.8 42.9,112.4 41.3,115.2 38.9,116.3 36.2,116.7 34.9,118.6 33.4,119.5 30.6,121.1 28.7,119.9 26.3,120.7 24.7,122.7 23.5,120.3 21.9,119.1 20.8,116.7 21.1,113.6 20.4,110.8 17.2,112.4 16,114.8 16.8,117.5 18,119.9 18.8,122.7 17.6,124.6 14.8,125.8 12.4,127 10.9,129.4 9.7,132.6 7.7,134.9 7,135 6.2,137.6 4.6,139.8M21.1,116.7 23.1,115.5 25.5,116.3 25.9,118.3 24.3,119.9 22.3,119.5ZM35,104.9 36,104.7 36.3,107.4 35.2,107.7ZM11.7,129.2 12.8,128.9 13.1,130.2 12,130.5ZM-36.7,-1.6 -35.6,0.3 -34.1,2.4 -32.9,5 -31,6.9 -30.1,3.7 -31.5,1 -32.6,-0.7 -35.2,-0.8ZM-42.4,1.2 -39.2,3.7 -35.4,4.7M-27.8,2.7 -26.5,7.5 -24,11.3M-47.8,-1.1 -45.5,-0.6 -45.6,1.4 -45.3,3.7 -46,5.3 -46.2,7.5 -47.9,6.7 -47.3,4.7 -48,2.5 -47.9,1.2ZM-128.7,55.1 -125.2,62.3 -120.9,69.4 -115.9,76.6M-35.2,77.5 -34,76.5 -32.8,74.4 -30.1,75.6 -28.1,74.1 -24.9,75.9 -22.2,75.6 -20.3,78.8 -20.9,82.3 -22.6,83.2 -24.1,85.1 -26.6,85.7 -28.1,86.2 -31.2,84.7 -33.3,81.5 -34.2,79.3ZM-63.1,3.8 -61.7,3.2 -59.2,2.7 -56.7,4.4 -57.3,7.5 -60.3,8.3M-59.2,10.5 -56.4,9.9 -54.8,11.6 -56.4,13.8M-82.3,20.4 -79.8,21.7 -77.2,23 -73.4,23 -71.2,21.7 -69.6,19.2 -68.1,16.6 -67.1,13.5 -67.4,10.3 -68.1,7.2 -67.1,4 -65.2,1.5 -62,-0.1 -60.4,-0.6 -58.2,0.2 -55.7,2.1 -54.5,5.3 -54.5,9.1 -55.4,12.2 -57.3,13.5 -58.2,15.4 -59.2,17.9 -60.5,21.1 -61.4,22.9 -62,25M-62,3.7 -58.9,3 -57,4M-60.1,9.4 -58.2,8.7 -56,9.4 -55.7,11.6 -57,12.8 -57.9,11.6 -59.2,10ZM-78.2,3.4 -76,2.1 -72.8,1.5 -71.9,-0.1 -69.6,-1.7 -67.7,-3 -64.9,-4.2 -62,-5.5 -63.3,-3.6 -65.8,-1.4 -66.5,0.9 -66.4,2.3 -67.4,4.3 -69.6,5.3 -71.1,5.2 -73.4,5.6 -76.6,5.3ZM-82.3,5.3 -80.4,5.9 -80.7,8.4 -78.5,10.3 -76,10.9 -72.8,9.4 -69.6,9.1 -68.1,7.8M-76,17.9 -74.1,16.6 -71.9,17.3 -71.2,18.9 -72.8,20.1 -75,19.8ZM-58.9,-4.2 -56.4,-4.9 -54.5,-3.3 -55.1,-1.4 -57.3,-0.8 -58.9,-2.3Z" fill="none" stroke="#000" stroke-width="1.25" stroke-linejoin="round"/></g><circle r="140.3" fill="none" stroke="#111" stroke-width="0.85"/></g>
<g transform="translate(439.75,247.0)"><g clip-path="url(#clip)"><circle r="141.3" fill="#96BE32"/><path d="M-108.8,-86C-108.7,-85.4 -108.4,-83.6 -108.4,-82.2C-108.5,-80.8 -108.5,-79.4 -108.9,-77.5C-109.3,-75.6 -110.1,-73.2 -110.9,-70.8C-111.7,-68.4 -112.6,-65.6 -113.8,-63.2C-114.9,-60.8 -116.5,-58.7 -117.9,-56.5C-119.4,-54.3 -120.9,-52.1 -122.2,-49.9C-123.6,-47.7 -124.9,-45.4 -126.1,-43.2C-127.3,-41 -128.3,-38.7 -129.4,-36.5C-130.6,-34.3 -131.7,-32 -132.8,-29.9C-133.8,-27.8 -134.7,-25.9 -135.6,-24.1C-136.6,-22.3 -138.1,-19.8 -138.6,-19L-180.7,-24.8L-143.1,-113.1Z" fill="#F5E6BE"/><path d="M-140.4,5C-140.3,5.5 -140,5.9 -139.6,8C-139.1,10.1 -138.6,14.3 -137.9,17.5C-137.3,20.7 -136.8,23.8 -135.6,27C-134.5,30.2 -132.8,33.4 -131.2,36.6C-129.7,39.8 -127.3,42.9 -126.1,46.1C-124.8,49.3 -124.6,52.4 -123.8,55.6C-122.9,58.8 -121.8,62.3 -120.9,65.1C-119.9,67.9 -118.7,71.3 -118.2,72.5L-155.5,95.3L-182.3,6.5Z" fill="#F5E6BE"/><path d="M134.8,-47C134.3,-46 132.8,-43.3 132.2,-41C131.7,-38.7 131.5,-36.8 131.4,-33.1C131.2,-29.4 131,-23.6 131.4,-18.8C131.8,-14.1 133,-8.6 133.8,-4.6C134.5,-0.6 134.6,1.4 135.8,5C136.9,8.6 139.9,15 140.8,17L181.1,21.9L172.2,-60.1Z" fill="#F5E6BE"/><path d="M-2.8,-88.4C1.2,-88.2 5.2,-86.3 9.1,-85.2C13.1,-84.1 17,-82.9 20.9,-81.7C24.9,-80.5 29.3,-79.8 32.9,-78.2C36.4,-76.6 39.2,-74.4 42.4,-72.2C45.5,-70 48.7,-67.1 51.9,-65.1C55,-63.1 58.2,-62.4 61.4,-60.4C64.5,-58.4 68.1,-55.8 70.9,-53.2C73.6,-50.6 76.2,-48.3 78,-44.9C79.7,-41.6 80.6,-37 81.5,-33.1C82.5,-29.1 82.9,-25.2 83.9,-21.2C84.8,-17.2 86.3,-13.3 87.5,-9.3C88.7,-5.4 90.6,-1.4 91,2.5C91.4,6.4 90.3,10.4 89.9,14.4C89.5,18.3 89.2,22.2 88.6,26.2C88,30.1 87.4,34.1 86.2,38.1C85.1,42.1 83.3,46.2 81.5,50C79.8,53.8 77.9,57.4 75.5,60.6C73.2,63.8 70.2,66.4 67.2,69C64.3,71.6 60.9,73.9 57.8,76.1C54.6,78.3 51.4,80.2 48.2,82C45.1,83.8 42.1,85.8 38.8,86.8C35.4,87.8 31.5,87.8 28.1,88C24.8,88.2 21.8,87.6 18.6,88C15.5,88.4 12.3,89.3 9.1,90.3C6,91.3 3.2,93.5 -0.4,93.9C-3.9,94.3 -8.3,93.3 -12.2,92.7C-16.2,92.1 -20.5,91.3 -24.1,90.3C-27.6,89.3 -30.8,88.2 -33.6,86.8C-36.3,85.4 -39.1,83.8 -40.6,82C-42.2,80.2 -43.1,78.3 -43.1,76.1C-43.1,73.9 -41.6,71.4 -40.6,69C-39.7,66.6 -38.3,64.2 -37.1,61.8C-36,59.4 -34.4,57.1 -33.6,54.7C-32.8,52.3 -32,49.6 -32.4,47.6C-32.8,45.6 -34.2,43.8 -35.9,42.8C-37.7,41.8 -40.7,41.5 -43.1,41.7C-45.4,41.9 -47.8,43 -50.1,44C-52.5,45 -54.9,46.8 -57.2,47.6C-59.6,48.4 -62.5,49.2 -64.4,48.8C-66.4,48.4 -68,47 -69.1,45.2C-70.3,43.4 -70.8,40.9 -71.6,38.1C-72.4,35.3 -73.2,32.2 -73.9,28.6C-74.7,25 -75.5,20.6 -76.2,16.7C-77,12.7 -77.9,8.9 -78.6,4.9C-79.4,1 -80.2,-3.8 -80.6,-7C-80.9,-10.2 -80.9,-10.9 -80.6,-14.1C-80.2,-17.3 -79.5,-22 -78.6,-26C-77.7,-30 -76.7,-34.1 -75.1,-37.8C-73.6,-41.6 -71.7,-44.9 -69.1,-48.5C-66.6,-52.1 -63,-55.8 -59.6,-59.2C-56.3,-62.6 -52.5,-65.9 -48.9,-68.7C-45.4,-71.5 -42.1,-73.6 -38.4,-75.8C-34.6,-78 -30.4,-79.9 -26.4,-81.7C-22.5,-83.5 -18.5,-85.4 -14.6,-86.5C-10.6,-87.6 -6.7,-88.6 -2.8,-88.4Z" fill="#BEEF66"/><circle r="7.1" fill="#fff"/><path d="M-115.3,-80.2 -113.9,-81.6 -111.8,-82.7 -109.6,-84.7 -107.9,-83.4 -105.8,-82.1 -103.6,-82.5 -101.4,-82.4 -99.6,-82.2 -97,-81.5 -94,-80.1 -91.9,-79 -90.4,-79.7 -87.7,-79.5 -86.3,-79.8 -84.3,-80.2 -82.9,-79.2 -80.5,-78.6 -78,-78.3 -76.4,-79 -73.7,-79.1 -71.9,-79.5 -70,-79.2 -67.9,-79.6 -66.2,-80.5 -64.2,-82.4 -61.5,-83.4 -59.7,-83.5 -57.7,-84.3 -56,-84.4 -53.9,-84.7M-61.7,-83.5 -59.5,-83.3 -57.7,-84.2 -55.4,-84.1 -53.8,-84.2 -52.9,-85.8 -51.9,-87.4 -51.4,-89.8 -50.3,-91.6 -49.7,-93.2 -48.3,-94.5 -47.9,-96.9 -46.4,-98.4 -45.6,-100.1 -45.1,-102.4 -44.3,-104.4 -43.9,-106.3 -42.8,-108.7 -42.7,-110.4 -41.1,-112.1 -39.8,-114.1 -37.5,-115.4 -36.3,-116.2 -34.8,-118.3 -32.5,-119.8 -33.8,-117.8 -34.6,-115.9 -36.4,-114.3 -37.2,-112.6 -38.8,-110.1 -40.4,-108.8 -40.4,-106.6 -41.4,-103.6 -42,-101.7 -39.2,-101.8 -36.4,-100.9 -33.6,-99.4 -31.7,-98.5 -29.3,-98.6 -27.7,-99.3 -26.5,-97.9 -25.3,-95.9 -24.5,-94.5 -25.3,-92.9 -24.7,-90.5 -25.3,-88.2 -27.1,-86.4 -29.3,-85 -28.3,-83.2 -26.9,-81.1 -25.2,-82.6 -22.7,-83.4 -20.6,-84.2 -19.2,-82.1 -17.4,-81.1 -19.7,-80 -21.3,-79.4 -23.8,-77.9 -22.8,-75.4 -21.4,-74 -19.3,-72.2 -17.4,-71.6 -18.1,-69.8 -18.6,-67.7 -19.1,-66.4 -20.6,-64.5 -21.7,-63.3 -23.3,-62.4 -25.3,-61.3 -26.7,-60 -28.9,-59 -31.4,-57.6 -33.2,-57.3 -34.8,-57.1 -36.8,-56.1 -38.5,-55.9 -41.4,-55.7 -42.7,-55 -44.5,-54.2 -45.7,-53.1 -47.8,-52.5 -49.9,-51.8 -50.7,-50.2 -50.5,-47 -51.4,-45.5 -52.1,-44.1 -53,-42M-50.7,-103.2 -48.8,-102.4 -48.7,-100.9 -48.4,-98.5 -49.9,-96.9 -51.3,-99.3 -50.9,-101.7ZM-49.5,-92.9 -47.8,-91.7 -48.4,-87.4 -49.9,-88.2ZM-29.3,-123.3 -27.3,-124.6 -26.1,-126.2 -25,-127 -26.9,-123.8 -28.8,-122.2ZM-8.9,-133.5 -7.6,-133.5 -7.6,-132.3 -8.9,-132.3ZM15.2,-128.6 16.4,-128.6 16.4,-127.4 15.2,-127.4ZM-17.4,-90.6 -14.3,-91.1 -12.7,-89.8 -15.1,-89ZM-25.3,-100.5 -23,-100.5 -22.8,-99 -25,-99ZM-14.3,-81.1 -13.5,-82.9 -12.4,-85.2 -11.1,-86.6 -8.7,-86 -7.1,-85.8 -4.8,-85 -2.5,-82.8 -0.8,-81.9 0.5,-83.8 1.2,-85.6 1.6,-87.4 1,-89.8 0.9,-91.6 0.8,-94.5 2.7,-95.8 5.7,-96.5 7.9,-96.9 10.1,-97.5 12.6,-98.9 13.9,-99.7 15.3,-101.5 17.7,-102.4M-14.3,-81.1 -12.3,-80.3 -9.7,-78.1 -7.9,-77.1 -6.2,-75.6 -3.8,-74.4 -1.6,-73.9 0,-72.4 2,-70.8 3.8,-70.1 6.4,-69.6 7.9,-68.4 10.1,-70 11.8,-70.8 12.5,-68.6 14.2,-66.8 17.7,-67.6M-3.2,-64.5 -0.8,-65.1 1.2,-64.2 -0.8,-62.9ZM7.7,-95.3 9.6,-96.7 10.8,-97 12.4,-98.5 13.5,-99.7 16.1,-100.4 17.2,-101.7 20.1,-100.7 21.9,-99.3 24.3,-99 26.2,-100 28.3,-100.1 29.1,-101.8 31.4,-104 33.2,-105.9 33.8,-108 33.2,-110.2 32.7,-111.6 35.5,-112.6 36.2,-115.7 39.3,-116.7 40,-118.9 43.3,-119.8 44.7,-122.1 48,-123.3 49.5,-124.9 52.4,-125.7 54.4,-126.2 53.8,-124.5 54.3,-122.4 54.1,-120.1 53.6,-118.3 53.3,-116.2 52.6,-113.6 51.9,-112.1 50.8,-109.7 50.4,-108 48.2,-106.3 46.7,-105.3 44.9,-104 43.5,-103.5 41.6,-102.5 39.5,-101 37.8,-100.9 35.9,-99.2 33.3,-98.4 31.4,-96.9 29.7,-95.9 27.5,-95.3 25.9,-94.5 26,-92.4 25.1,-90.6 28.3,-91.4 29.9,-92.7 32.2,-93.7 33.2,-92 34.6,-90.6 37.3,-91.4 39.3,-92.2 41.4,-93 43.1,-94.7 44.9,-96.1 46.9,-95.5 48.6,-95.1 50.4,-94.5 52.4,-92.1 53.6,-90.6 56.3,-89.4 58.3,-89 59.4,-87.5 61.8,-86.3 62.5,-85.3 64.7,-84.2 66.5,-85.1 68.3,-85.5 70.7,-86 72.6,-85.8 75,-86 76.7,-87.1 78.2,-86.8 80.5,-87.4 83.9,-87 86,-87.4 85.7,-90.3 86,-92.2 84,-93.2 82.1,-94.5 81.3,-96.7 79.7,-97.4 78.9,-99.3 76.5,-98.5 77,-100.4 77.2,-102.6 78.1,-104.8 79.2,-106.3 80.2,-108.9 81.3,-111.1M83.3,-111.5 83.5,-109.3 82.4,-107 82.6,-104.1 81.8,-102.4 80.8,-100.5 82.4,-101.7 84,-103.8 83.9,-105.4 85.1,-107.8 86.5,-109.1M15,-128.7 16.2,-128.7 16.2,-127.4 15,-127.4ZM6.1,-67.6 7.7,-68.4 9.2,-69.3 11.7,-70 13.2,-68.2 14,-66.8 15.7,-66.3 18.4,-66.8 20.2,-66.1 21.9,-66.1 23,-64.4 23.5,-61.3 24.9,-60.1 27.3,-59.4 28.3,-58.1 29.5,-55.3 30.6,-53.4 31.6,-50.7 31.4,-48.6 34.1,-47.2 35.4,-45.5 37.5,-46.6 40.1,-47.9 42.5,-45.9 44.1,-44.7 46.2,-43.8 48.8,-42M111.8,-40.1 113.9,-40.4 116.1,-41.2 118.9,-41.2 120.8,-40.8 122.8,-39.5 124.5,-38.1 126.8,-37.3 127.9,-35.8 129.3,-34.4 130.8,-32.2 129.2,-34.9 127.7,-35.4 125.7,-37.2 123.7,-37.6 122.1,-39 120.2,-39.5 117.4,-39.5 114.5,-39.1 112.6,-39.2ZM20.4,-67 22,-65.8 23.5,-64.5 23.7,-62.1 24.2,-60.7 26.5,-59.4 28,-58.1 30.5,-55.6 30.9,-53.2 31.8,-51.2 33.3,-49.5 34.9,-47.4 37.4,-46.1 40,-48 41.6,-47.1 43.1,-44.8 46.3,-42.9 48.8,-42.3 48.2,-39.2 45,-37.9 45.2,-35.7 44.4,-34.1 46.3,-30.9 48.8,-29.7 49.3,-28.1 49.8,-25.6 49.5,-24 50.1,-21.1 51.4,-18.9 52.8,-17.9 54.3,-16.1 52.3,-18.5 50.2,-18.8 48.2,-19.5 44.4,-19.5 43.5,-17.7 41.9,-16.4 41.9,-12.6 40.6,-10 43.1,-8.7 44.4,-7.5 44.9,-5.3 46.3,-3.7 48.5,-1.2 49.5,0.7 51.4,1.7 53.3,3.3 54.7,5.1 55.2,7.7 57.7,9.6 60.9,8.9 61.2,11 61.5,13M24.8,-44.2 26.7,-42.3 28,-39.2 30.5,-40.4 33,-39.8 33.6,-37.3 31.8,-35.4 29.2,-36.6 27.3,-39.8 25.8,-41.1 24.8,-42.9ZM33.6,-45.2 35,-44.2 34.5,-41.9 33.4,-42.9ZM29.9,-3.1 30.9,-4.8 32.8,-6.3 34.9,-7.5 35.8,-8.9 38.1,-10 39.6,-7.8 38.9,-5.9 37.4,-3.7 35.8,-2.2 34.3,-0.5 31.1,-0.9ZM53.3,3 55.2,5.5 55.2,9.3 57.7,10.6 59.6,8.1 61.5,9.3 60.2,12.5 62.8,13.8 60.9,15.7 58.5,15.4 56.4,15.7 54.5,17.4 53.5,18.8 55.7,18.4 58.3,18.2 60.4,18.7 63.4,17.9 65.4,18.5 67.6,18 69.1,18.8 71.2,20.6 73.5,21.4 75.4,24 77.1,25.5 75.8,26.8 74,25.6 72.9,23.9 70.3,22.4 68.5,21.4 65.6,20.5 63.4,20.5 61.1,20.5 59.6,20.7 61.5,23.9 63.8,25.3 65.9,26 68.7,27.3 67.6,28.5 65.3,29.8 63.5,31.6 60.9,32.7 59,34.3 57.3,34.6 59.9,35.1 62.1,35.3 63,37.8 61.7,39.5 60.9,41 59,42.9 58.5,44.3 57.7,46.7 56.6,49.4 56.4,51.7 55.2,54.9 56.4,57.4 55.2,59.3 52.6,58.7 52.2,60.6 51.8,62.5 53,63.6 55.2,65 56.4,66.9 53.9,67.6 54.8,69.5 51.4,71.1 50.2,69.5 48.2,67.8 46.2,67.7 44.4,66.2 41.9,65.7 44.3,64.9 45.7,64 47.8,63.3 50.1,62.5 52,60 50.1,58.1 47.6,57.8 45.4,57.1 43.1,57.2 41.1,57.4 38.1,58.1 35.8,58.2 33,57.4 31.2,57.5 29.7,58.1 27.3,58.7 26.6,60.3 24.5,61.7 23.5,63.1 22.2,64.7 21,66.9 19.7,68.8 18.7,70.6 17.2,73.3 17.3,75.3 18.5,77.7 17.5,80.9 17.8,83M52.9,45.8 54.5,45.5 55.2,47.1 53.9,48.1 52.8,47.3ZM40.9,16.3 43.1,16.3 44.3,18.3 44.4,20.7 44.8,23.2 45.7,24.3 46.3,26.4 48.2,29.4 48.8,31.5 50.7,32.9 52,34.6 54.5,35.9 53.9,37.8 52.1,38.6 50.1,38.4 49.2,36.8 46.9,35.3 46.2,33.4 45.1,31.5 43.8,30.2 42.6,28.1 42.5,26.9 41.6,24.5 40.5,22.1 40.6,19.5ZM22.3,20.7 23.3,19 24.8,16.9 25.3,15 26.7,13.1 28,15 27.4,17.3 26.7,18.8 25.7,21 24.2,22ZM8.3,32.7 9.9,32 11.5,30.2 14.7,30.2 14.7,33.4 13.4,35.9 16.6,37.8 15.9,39.7 13.4,38.4 12.5,41.2 12.8,43.5 12,41.5 10.2,39.7 9.5,38 9,35.9ZM53.3,76.4 55.3,78 57.7,78.3 59,80.2 56.4,80.5 53.9,78.3ZM49.7,85.2 52.1,83.3 54.4,84.4 54.1,87.5 51.8,88.6 49.9,87.5ZM54.4,76.9 56,76.4 58.1,78.8 57.3,80.4 55.5,79.1ZM-12.3,94 -10.9,94 -10.9,95.3 -12.3,95.3ZM-41.7,15.7 -40.3,14 -38.5,12.5 -36.8,12.6 -33.8,13.2 -32.2,14.1 -29.8,13.6 -28.5,13.4 -26.5,13.5 -24.3,13.3 -21.8,14.1 -20.2,15.4 -18,16 -16.4,16.4 -14.8,18.5 -13.2,19.5 -10.8,21.2 -10.3,23.2 -9.2,25.2 -11.6,26.7 -9.2,27.9 -6.9,28.3 -7.2,29.9 -8.4,32.3 -9.7,33.3 -10.4,35.3 -11.6,37 -12.6,39.2 -14.1,40.2 -14.8,42.6 -15.7,44.1 -16.4,46.1 -17.1,48.1 -18.5,50 -21.1,52.1 -22.7,54.6 -24.3,56 -25.6,57 -27.4,58.4 -26.6,60.8 -28.9,61.8 -29.8,63.1 -31.4,63.8 -33.8,64.7 -35.7,64.8 -38.5,63.9 -40.3,64.7 -43.2,65.5 -45.1,66 -47.9,66 -49.6,66.3 -51.7,64.9 -54.3,63.9 -55.9,65.1 -57.3,66.1 -59.1,67.1 -60.2,68.5 -62.3,68.5 -63.8,70.2 -65.5,71.4 -67,71.8 -68.6,73.4 -70.2,74 -72.5,74.2 -73.2,72.2 -73.1,69.5 -74.1,67.9 -73.3,66.4 -73.5,63.3 -72.5,61.5 -71.1,59.7 -70.6,57.9 -69.4,55.2 -67.9,52.9 -66.2,51.4 -65.4,49.7 -63.7,49 -62.8,46.9 -60.7,45.7 -58.1,44.9 -55.9,44.1 -55.8,41.8 -56.7,40.2 -54.4,39.5 -52.7,38.6 -51.6,36.9 -50.4,35.4 -49,33.2 -47.2,32.3 -45.5,29.7 -44,28.3 -42.8,26.3 -41.7,23.6 -42.8,21.6 -43.2,18.8ZM-52,-45 -53.6,-41.8 -55.9,-40.7 -57.6,-39.5 -58.4,-36.7 -61.1,-35.1 -62.1,-33.8 -64.3,-32.7 -65.5,-30.4 -68.2,-32.3 -70.2,-30.4 -71,-26.8 -73,-24.4 -71,-23.2 -69,-24.4 -68.6,-21.3 -70.6,-18.9 -73.4,-17.3 -75.4,-14.9 -75.8,-12.2 -73.4,-10.2 -71.4,-11.4 -69.8,-10.2 -71.8,-7.8 -74.6,-9 -76.6,-8.2 -74.6,-6.2 -71,-7 -68.2,-8.2 -65.5,-7.8 -63.1,-5.4 -64.7,-3.9 -67.9,-2.7 -71,-0.7 -73.4,1.7 -76.6,2.5 -78.9,4.1M-65.5,-30.4 -61.9,-30.4 -61.7,-28.3 -61.5,-26.4 -59.9,-29.6 -58.3,-30 -56,-30.4 -53.6,-30 -52,-27.2 -52.4,-24.4 -54.4,-21.3 -55.6,-18.1 -54.8,-15.3 -57.6,-16.1 -59,-16.4 -61.5,-16.5 -64.7,-15.3 -66.7,-13.4 -69,-15.3 -69.4,-18.9 -68.2,-21.3 -68.6,-24.4 -67.5,-28ZM-54.4,-35.1 -52.1,-35.5 -49.7,-35.5 -47.7,-32.3 -44.9,-30.4 -46.1,-27.2 -48.9,-24.8 -51.2,-25.2 -52,-28 -53.6,-30.4 -54.8,-33.1ZM-62.3,-10.6 -59.9,-11.2 -58.4,-12.6 -55.6,-11 -54.4,-8.6 -57.6,-7.4 -61.1,-7.8ZM-58.8,-4.7 -56,-5.8 -54,-3.9 -54.8,-1.1 -57.6,-1.5ZM-41.7,-25.2 -39,-26.4 -37.8,-21.3 -38.6,-18.9 -41,-21.3 -42.5,-22.8ZM-48.5,-21.3 -45.7,-22.1 -43.7,-20.5 -44.1,-17.3 -47.3,-16.9 -48.9,-18.9ZM-39.4,-17.3 -37,-17.7 -35.8,-14.9 -38.2,-13.8ZM-48.9,-13.4 -44.1,-12.6 -44.5,-10.2 -48.1,-10.2ZM-49.7,-9 -46.1,-9 -46.5,-7 -49.3,-7ZM-43.3,-11.8 -38.6,-11.4 -39,-9.4 -42.5,-9.4ZM-52,-5.4 -48.9,-5.4 -49.3,-3.5 -51.6,-3.5ZM-45.5,1.2 -43.7,0.3 -42.4,-1.4 -40.7,-1.9 -38.3,-1.3 -36.7,-2 -34.8,-2.7 -31.6,-3.3 -29.8,-1.7 -28.4,-0.6 -26.5,1.2 -25.2,3.1 -24.1,3.6 -22.7,5.6 -21.9,7.7 -21.5,10 -22.7,11.2 -24,13.2 -26.1,12.5 -27.8,12.6 -29.4,13.1 -31.6,13.8 -33.6,12.2 -36.7,11.3 -38.7,9.9 -41.7,8.8 -43.8,7.2 -44.9,5.6 -45.5,2.9ZM-51.9,-1.4 -50.3,-1.6 -48.1,-2 -47.1,0 -46.8,2.4 -47.4,5.5 -47.4,7.5 -50.6,8.8 -51.9,7.2 -52.5,5 -52.6,2.3 -52.5,1.2ZM-79.3,4.6 -81.8,5.3 -85.6,5.3 -88.1,3.4 -89.8,1.8 -90.7,-0.4 -92.6,-2.7 -94.5,-3.6 -96.6,-6.2 -98.3,-7.4 -100.4,-8.8 -103.3,-9.3 -105.6,-8.7 -107.1,-8.9 -109,-7.8 -111.6,-5.5 -113.2,-4.5 -114.7,-3 -115.2,-1.2 -115.4,0.5 -116.6,2.7 -117.6,4.9 -119.1,7.2 -120.4,8.7 -121,11.6 -121,15.4 -122.8,15.4 -124.8,16.6 -127,17.5 -128.6,17.9 -130.5,19.3 -131.6,21.6 -133.7,23 -131.3,24.8 -129.9,26.1 -127.7,24.9 -124.8,24.2 -123,24 -120.4,22.3 -117.9,23.6 -115.6,25 -114.1,26.1 -112.3,25.7 -109.7,24.2 -108.5,22.8 -105.9,21.7 -104.3,22.5 -102.1,22.3 -99.3,21.5 -97.6,20.4 -96,19.7 -93.8,19.2 -93.7,21.4 -92.6,23 -92.3,25.4 -92.6,27.4 -93.5,29.2 -95.1,31.2 -95.2,33.5 -96.4,35 -98.9,36.9 -100.7,38.6 -101.4,40.7 -98.3,42.6 -96.9,43.3 -94.5,42.7 -92.6,43.2 -94.2,45.3 -94.5,47 -95.7,48.8 -97.6,50.8 -99.1,52.5 -100.8,54 -102.3,55 -103.3,57.2 -104.4,59.2 -104.6,60.9 -104.6,63.3 -104,65M-116.5,20.4 -114.5,20.4 -114.2,22.2 -116.2,22.5ZM-129.1,17.9 -127.9,18.2 -128.1,19.4 -129.3,19.2ZM-95.5,10.3 -93.5,11.8 -93.7,13.1 -95.2,11.6ZM-95.5,15.9 -93.5,16.1 -93.5,17.4 -95.5,17.2ZM-85.6,5.3 -87.6,5.1 -90,5.3 -91.3,8.4 -88.8,10.9 -88.8,12.8 -89.4,14.7 -88.1,13.8 -87,11.4 -85.6,10.3 -84.8,9 -83.5,7 -81.8,5.9M-91.9,5.5 -89.2,4.6 -87.4,4.4 -84,5.2 -81.9,5 -78.6,6.6 -77.4,5.5 -75.3,4.4 -74.2,2.4 -72.5,1.1 -70.5,0.8 -68.6,0 -66.5,-0.1 -64.2,0.5 -61.8,1 -59.8,1.1 -57.6,2.6 -55.9,3.3 -54.8,6.6 -54.2,9.9 -55.9,13.3 -57.5,12.1 -58.2,13.9 -58.6,16.6 -59.8,18.4 -60.3,21 -61.7,22.5 -63.1,24.3 -64.6,25 -66.4,26.5 -66.3,28.5 -67,31 -67.9,33.8 -69.2,35.4 -70.7,36.3 -72.5,37.6 -74.7,36.5 -76.4,33.7 -78.6,36.5 -80.8,34.3 -83,32.1 -83.6,35.6 -84.1,37.6 -86.9,38.7 -88.5,35.4 -87.8,33.5 -86.9,31 -85.9,28.7 -85.8,26.5 -84.6,25 -84.1,22.1 -84.8,19.9 -85.2,18.2 -81.9,18.8 -80.9,21 -79.7,22.1 -76.4,23.2 -74.8,22 -72.5,21.6 -71.7,19.7 -69.7,17.7 -71.9,16 -75.3,17.7 -76.4,14.4 -77.7,12.2 -79.7,11 -83,9.4 -84.9,10 -86.3,11.6 -88.2,12.3 -89.7,13.8 -90.9,11.7 -91.3,9.9 -91,8.1ZM-102,40 -100.9,41.7 -99.7,43.2 -97.6,43.1 -95.7,43.2 -93.3,44 -94.2,46 -95.4,47.3 -96.5,49.5 -97.2,51.5 -99.1,52.8 -100.4,55 -102,56.2 -104.4,57.4 -105.2,60.2 -105.2,62.9 -105.3,65 -106.8,67.7 -107.1,69.7 -107.6,71.6 -109.3,73.1 -111.5,75.6 -114.1,76.4 -116.3,76.4M-121.5,71 -119.2,70.8 -116.3,70.9 -114.2,72 -112.9,72.8 -111.5,74 -113.3,75.4 -115.5,76.7 -117.5,75.3 -119,75.1 -120.2,73.5ZM-91,-42.4 -88.5,-45 -88.2,-43.3 -87.2,-41.2 -86,-39.3 -87.9,-36.7 -87.2,-33.6 -88.5,-30.4 -89.6,-32.5 -89.4,-34.2 -90.1,-36.4 -90.4,-38 -90.9,-40.6ZM-101.8,-38 -100.5,-39.3 -99.4,-37.7 -98,-35.5 -99.9,-32.3 -101.5,-32.9 -102.2,-35.5ZM-113.8,-26.6 -111.3,-26 -109.1,-24.4 -107.5,-23.5 -109.1,-22.2 -111.2,-22.9 -112.6,-24.3ZM-138.5,-19.7 -136,-21.1 -133.4,-22.2 -131.3,-23.5 -128.4,-24.3 -125.8,-23.8 -128.1,-22.1 -129.6,-20.9 -132,-19.5 -134.7,-19 -137.9,-18.4ZM-137.9,-17.1 -135.4,-17.5 -134.6,-18.6 -132.2,-19 -129.5,-19 -128.4,-19.8 -125.8,-20.3 -124.6,-18.4 -126.6,-18 -128.4,-16.5 -130.7,-16.5 -132.3,-16.1 -134.7,-15.2 -137.9,-15.5ZM-73.9,-44.3 -72,-46.2 -70.8,-43.1 -69.5,-45 -67.6,-46.2 -66.6,-44.3 -67.4,-42.8 -67.6,-40.5 -68.9,-38 -70.8,-39.9 -72,-38 -73.3,-40.5 -73.8,-42.7ZM-99.6,-87.7 -96.3,-88.4 -94.6,-87 -91.8,-86 -91.3,-84.1 -94.8,-85.3 -98.3,-86.5ZM-92.3,-81.5 -89.3,-83.5 -87.7,-82.6 -86.3,-81 -83.3,-83 -81.9,-81.3 -80.3,-79.5 -77.8,-81 -76.3,-78 -78.1,-77.8 -80.3,-78.5 -83.3,-80 -86.3,-78.5 -89.3,-80ZM-41.5,-24.9 -39,-26.5 -37.4,-23 -37.7,-19.9 -39.6,-20.5 -41.2,-22.4ZM-48.1,-20.5 -44.7,-22.4 -41.5,-21.5 -41.8,-18.6 -44.7,-17.3 -47.2,-17.7 -48.5,-18.9ZM-39.9,-17.3 -37.1,-17.7 -35.8,-15.8 -36.7,-13.9 -39,-14.2 -39.9,-15.8ZM-49.1,-9.7 -45.3,-10.1 -44.7,-7.8 -47.8,-7.2 -49.4,-8.2ZM-51.6,-5.3 -48.8,-5.6 -48.5,-3.7 -51,-3.4ZM-39.6,-9.7 -35.8,-10.4 -35.2,-8.5 -37.7,-6.9 -39.6,-7.8ZM-43.4,-5.3 -39.6,-5.9 -39,-4.1 -42.1,-3.4ZM-46.6,-15.4 -44,-15.8 -43.1,-13.5 -44.7,-11.6 -46.9,-12.3ZM-45.9,-2.2 -41.5,-2.8 -35.2,-2.8 -30.1,-1.8 -26.3,1 -28.8,-0.3 -32.6,1.6 -36.4,2.9 -40.2,1.6 -44.7,1ZM3.3,139.6 2.5,136.8 1.3,134.4 3.3,132.8 3.3,130.1 0.9,128.9 -0.7,126.1 -2.3,122.9 -3.8,119.8 -5.4,117.8 -6.2,115.4 -4.2,113.8 -3.8,111.5 -6.2,110.3 -5.8,108.3 -8.6,107.8 -10.6,107.9 -13.7,108.3 -14.1,110.7 -12.5,111.9 -12.9,114.2 -11.3,115.8 -12.1,118.6 -10.2,120.2 -7.8,121.4 -7.4,123.7 -9,125.3 -7.4,126.9 -9.8,127.7 -10.2,130.5 -11.3,132.4 -9.4,133.6 -7,134.4 -9,135.6 -10.6,136.8 -12.1,138.8 -9.4,137.6 -6.2,137.2 -3.8,136.6 -1.5,137.2 0.4,137.5 3.3,137.2M-24,130.1 -22.7,129 -21.6,126.9 -22,123.7 -19.7,121.8 -17.3,119.4 -14.5,119.4 -12.9,121 -12.9,123.7 -13.7,126.9 -14.5,129.7 -16.5,131.2 -19.7,132.4 -22.4,132.4 -24,131.2ZM11.4,129.3 12.6,129 12.9,130.4 11.8,130.9ZM22.8,63 21.6,64.8 20.7,66.4 19.6,68.5 18.9,70.5 18.1,72.4 17.3,74.1 17.1,76 17.4,78.2 16.7,79.7 16.5,82 15.6,84.3 15.5,85.9 14.9,88.3 13.6,89.6 12.1,91.7 10.1,93.1 9.8,95.5 8.6,97.8 8.7,99.4 8.9,101.6 9.3,104.1 10.5,106.5 11.7,108.1 13.3,108.4 15.7,108.9 17.2,107 18.8,104.9 22,106.5 22.1,108.3 23.6,110.5 24.5,112.7 25.6,114 26.8,115.2 29.1,115.2 31.4,113.2 32.2,110 31.4,106.4 31.6,103.9 32.2,102.5 33.4,98.9 31.4,96.6 29.9,94.2 28.7,93 28.3,89.9 29.3,87.6 30.2,86.7 30.7,84.4 31.5,81 31.5,78.8 32.3,75.7 34.7,74.9 36.2,78 36.3,79.9 35,81.3 34.7,83.6 34.4,85.5 34.8,87.5 35.5,89.9 36.9,91.8 37.8,93.1 39.5,92.4 41.8,92.3 43.6,90.8 45.7,89.1 47.3,88.2 49.7,88.3 52.1,86.7 52,89.2 51.3,90.7 48.8,91.9 47.3,93.1 44.9,95.4 42.5,97.4 43.3,100.1 45.7,99.7 46.9,102.1 45.7,104.1 43.7,103.3 42.1,102.5 41.7,105.7 42.5,108.8 42.9,112.4 41.3,115.2 38.9,116.3 36.2,116.7 34.9,118.6 33.4,119.5 30.6,121.1 28.7,119.9 26.3,120.7 24.7,122.7 23.5,120.3 21.9,119.1 20.8,116.7 21.1,113.6 20.4,110.8 17.2,112.4 16,114.8 16.8,117.5 18,119.9 18.8,122.7 17.6,124.6 14.8,125.8 12.4,127 10.9,129.4 9.7,132.6 7.7,134.9 7,135 6.2,137.6 4.6,139.8M21.1,116.7 23.1,115.5 25.5,116.3 25.9,118.3 24.3,119.9 22.3,119.5ZM35,104.9 36,104.7 36.3,107.4 35.2,107.7ZM11.7,129.2 12.8,128.9 13.1,130.2 12,130.5ZM-36.7,-1.6 -35.6,0.3 -34.1,2.4 -32.9,5 -31,6.9 -30.1,3.7 -31.5,1 -32.6,-0.7 -35.2,-0.8ZM-42.4,1.2 -39.2,3.7 -35.4,4.7M-27.8,2.7 -26.5,7.5 -24,11.3M-47.8,-1.1 -45.5,-0.6 -45.6,1.4 -45.3,3.7 -46,5.3 -46.2,7.5 -47.9,6.7 -47.3,4.7 -48,2.5 -47.9,1.2ZM-128.7,55.1 -125.2,62.3 -120.9,69.4 -115.9,76.6M-35.2,77.5 -34,76.5 -32.8,74.4 -30.1,75.6 -28.1,74.1 -24.9,75.9 -22.2,75.6 -20.3,78.8 -20.9,82.3 -22.6,83.2 -24.1,85.1 -26.6,85.7 -28.1,86.2 -31.2,84.7 -33.3,81.5 -34.2,79.3ZM-63.1,3.8 -61.7,3.2 -59.2,2.7 -56.7,4.4 -57.3,7.5 -60.3,8.3M-59.2,10.5 -56.4,9.9 -54.8,11.6 -56.4,13.8M-82.3,20.4 -79.8,21.7 -77.2,23 -73.4,23 -71.2,21.7 -69.6,19.2 -68.1,16.6 -67.1,13.5 -67.4,10.3 -68.1,7.2 -67.1,4 -65.2,1.5 -62,-0.1 -60.4,-0.6 -58.2,0.2 -55.7,2.1 -54.5,5.3 -54.5,9.1 -55.4,12.2 -57.3,13.5 -58.2,15.4 -59.2,17.9 -60.5,21.1 -61.4,22.9 -62,25M-62,3.7 -58.9,3 -57,4M-60.1,9.4 -58.2,8.7 -56,9.4 -55.7,11.6 -57,12.8 -57.9,11.6 -59.2,10ZM-78.2,3.4 -76,2.1 -72.8,1.5 -71.9,-0.1 -69.6,-1.7 -67.7,-3 -64.9,-4.2 -62,-5.5 -63.3,-3.6 -65.8,-1.4 -66.5,0.9 -66.4,2.3 -67.4,4.3 -69.6,5.3 -71.1,5.2 -73.4,5.6 -76.6,5.3ZM-82.3,5.3 -80.4,5.9 -80.7,8.4 -78.5,10.3 -76,10.9 -72.8,9.4 -69.6,9.1 -68.1,7.8M-76,17.9 -74.1,16.6 -71.9,17.3 -71.2,18.9 -72.8,20.1 -75,19.8ZM-58.9,-4.2 -56.4,-4.9 -54.5,-3.3 -55.1,-1.4 -57.3,-0.8 -58.9,-2.3Z" fill="none" stroke="#000" stroke-width="1.25" stroke-linejoin="round"/></g><circle r="140.3" fill="none" stroke="#111" stroke-width="0.85"/></g>
<g transform="translate(291.1,700.1)"><g clip-path="url(#clip)"><circle r="141.3" fill="#F5E6BE"/><path d="M-133.5,35.5 -129.7,36.2 -127.2,34.3 -124.6,29.2 -124,24.1 -124.6,19.1 -127.8,16.5 -127.7,12.9 -124.5,6.6 -119.8,0.3 -115,-6.1 -111.9,-12.4 -111.1,-18.7 -110.3,-25 -105.5,-29 -97.6,-34.5 -95.1,-36.9 -88.8,-38.8 -82.4,-41.4 -76.1,-45.2 -69.8,-48.3 -66,-47.7 -60.9,-45.8 -55.9,-44.5 -52.1,-47.1 -49.5,-52.1 -45.7,-55.3 -40.9,-61 -34.5,-65 -28.2,-68.2 -21.9,-72.1 -17.9,-77.6 -16.3,-84 -10.9,-81.1 -2.9,-77.9 5,-74 8.9,-69.2 12.9,-63.7 19.2,-60.5 25.5,-58.2 30.3,-55 33.4,-51 35.8,-46.3 38.2,-44.7 37.4,-39.2 35,-33.6 35.8,-30.5 41.4,-28.1 46.1,-24.2 52.4,-22.6 58.8,-22.6 65.1,-21 69.8,-17.8 65.1,-13.9 61.5,-10.6 63.5,-11.3 71.8,-14.2 81.3,-15.8 86,-11 86.8,-4.7 83.7,3.2 83.7,11.1 87.6,17.4 90,23.8 88.4,30.1 86,33.1 79.7,38.6 77.3,45.7 73.4,50.5 67.8,53.6 63.9,59.2 64.7,66.3 71,74.2 78.1,72.6 86,67.9 92.4,66.3 97.9,70.2 99.5,75.8 97.1,82.1 92.4,86.9 90,92.4 91.6,97.9 96.3,99.5 108.9,114.9 178.9,134.9 178.9,-160.1 -181.1,-160.1 -181.1,36.9Z" fill="#DEB887"/><path d="M-141.1,-100.1 -114.2,-81.6 -107.1,-83.2 -97.6,-82.4 -95.1,-82.5 -87.5,-80.6 -79.9,-85 -76.1,-86.3 -71,-83.1 -65.4,-80 -64.7,-76.2 -69.8,-74.3 -74.8,-71.7 -79.9,-73 -81.2,-69.8 -79.3,-64.8 -75.5,-62.9 -74.2,-66 -69.8,-64.8 -67.9,-61 -69.2,-57.2 -68.5,-52.1 -71,-52.8 -76.1,-55.9 -82.4,-59.1 -88.8,-61.6 -95.1,-62.9 -97.6,-62.6 -105.5,-58.7 -115,-50.7 -124.5,-44.1 -129.3,-36.9 -135.6,-34.5 -138.8,-28.2 -161.1,-20.1Z" fill="#F5E6BE"/><path d="M-63.5,-85 -59,-83.1 -57.1,-78.1 -60.3,-80 -62.8,-81.2Z" fill="#F5E6BE"/><path d="M55.4,-41.6 58.9,-45.6 63.1,-46.9 60.7,-43.6 56.2,-40.9Z" fill="#F5E6BE"/><path d="M77.8,-28.5 78.9,-27.7 81,-20.5 80,-19.8Z" fill="#F5E6BE"/><path d="M131.1,-1.6 135.1,-5.5 139.8,-3.1 139,2.4 133.5,4Z" fill="#F5E6BE"/><path d="M35.5,-107.6 38.4,-109.9 41.2,-108.6 39.7,-104.1 36.4,-101.6Z" fill="#F5E6BE"/><path d="M-25.5,66.4 -23.1,60 -19.1,53.7 -14.4,49 -11.1,52.4 -6.4,40.5 -3.2,46.1 -0.1,35 3.9,33.4 7.1,35.8 12.6,42.1 18.9,34.2 24.5,28.7 30.8,26.3 37.1,29.5 42.7,33.4 47.4,37.4 49.8,43.7 50.6,50 46.6,51.6 40.3,50.8 32.4,50.8 26.8,52.4 21.3,56.4 16.5,59.5 12.6,60.3 8.6,65.1 3.9,70.6 -1.7,73.8 -7.2,76.9 -11.9,77.7 -17.6,77.4 -23.9,72.7Z" fill="#DEB887"/><path d="M-102.6,92.1 -97.9,87.4 -93.1,79.5 -90.8,73.9 -94.7,70 -93.9,63.6 -90,58.1 -85.2,53.3 -78.9,50.2 -71,49.4 -67.8,48.6 -70.2,52.6 -74.1,57.3 -78.9,62.1 -83.6,65.2 -84.4,71.5 -83.6,79.5 -84.4,87.4 -83.6,95.3 -83.6,103.2 -87.6,101.6 -93.1,99.2 -98.7,95.3Z" fill="#DEB887"/><path d="M-70.6,84.8 -70.2,79.5 -67.8,75.5 -61.5,71.5 -55.2,70 -48.8,68.4 -48,76.3 -40.1,73.1 -44.9,78.7 -48.8,82.6 -50.4,87.4 -54.4,90.5 -55.2,86.6 -61.5,84.2 -66.2,85.8Z" fill="#DEB887"/><path d="M44.9,39.4 49.6,36.2 53.6,37.8 51.2,44.1 44.9,50.5 42.9,44.9Z" fill="#DEB887"/><path d="M-56.3,30.8 -52.1,27.4 -47.6,25.9 -50.1,30.9 -55.1,34.4Z" fill="#DEB887"/><path d="M35.9,-130.5 44.9,-127.5 52.8,-127.4 59.9,-126.7 63.1,-119.5 68.6,-117.9 71,-114.8 66.3,-109.2 63.9,-111.6 60.7,-117.9 56,-116.4 52.8,-121.1 48.1,-124.3 41.9,-127.1Z" fill="#FFE100"/><path d="M83.7,-109.2 87.6,-108.5 90.8,-106.1 88.4,-101.3 84.5,-102.1 82.1,-104.5Z" fill="#FFE100"/><path d="M128.8,12.7 134.3,13.5 140.9,15.4 144.9,25.9 138.9,39.9 133.5,36.8 129.6,36.4 125.6,31.7 124,25.3 126.4,19Z" fill="#FFE100"/><path d="M75.7,-70.1 77.4,-70.1 77.4,-68.1 75.7,-68.1Z" fill="#FFE100"/><path d="M100.9,-96.1C100,-95.7 96.1,-95 95.5,-93.4C94.9,-91.8 96.4,-88.7 97.1,-86.3C97.8,-83.9 98.7,-81.6 99.5,-79.2C100.3,-76.8 101.4,-74 101.9,-72.1C102.4,-70.3 101.6,-69.2 102.7,-68.1C103.7,-67 106.7,-66.9 108.2,-65.7C109.6,-64.5 110.3,-62.6 111.4,-61C112.4,-59.4 113.5,-57.8 114.5,-56.2C115.5,-54.6 116.9,-53.3 117.7,-51.5C118.5,-49.7 119.1,-47.6 119.3,-45.2C119.5,-42.8 118.4,-38.6 119,-37.1C119.6,-35.7 121,-36.3 122.9,-36.5C124.8,-36.7 128.2,-37.2 130.2,-38.1C132.2,-39 133.9,-41.2 134.7,-41.8L174.2,-54.1L132.1,-125.8Z" fill="#FFE100"/><path d="M-24.1,-9.2 -17.8,-13 -12.1,-12.4 -6.4,-13.6 0.6,-11.7 6.9,-9.2 12,-6.7 14.3,-1.6 13.9,3.4 11.4,9.1 6.3,14.2 -1.3,17.4 -6.4,14.8 -11.4,11 -15.2,7.9 -19,9.8 -22.8,12.3 -24.7,10.4 -27.9,5.3 -25.4,3.8 -21.9,2.6 -19,-1.6 -21.6,-4.8Z" fill="#96BE32"/><path d="M-23.1,12.9 -16,12.9 -12.9,12.9 -13.8,16.4 -11.2,20.5 -12.8,25.2 -9.7,30 -12.8,36.3 -16,40.2 -18.4,42.6 -22.3,45 -25.5,49 -31.8,51.3 -35,55.3 -38.1,59.2 -41.3,61.6 -36.6,63.2 -35.8,64.8 -40.5,65.6 -42.9,62.4 -47.6,63.2 -52.4,62.4 -56.3,64 -59.5,66.4 -64.2,69.5 -69,71.9 -72.2,70.3 -72.9,66.4 -71.4,61.6 -68.2,56.1 -63.5,51.3 -58.7,47.4 -54,45 -50,40.2 -47.6,35.5 -44.5,31.5 -40.5,25.2 -36.6,17.9 -31.8,14.5 -27.1,12.3Z" fill="#96BE32"/><path d="M-77.7,35.5 -74.5,30.8 -69.8,26.8 -65.8,26 -67.4,31.5 -69.8,35.5 -73.7,37.9Z" fill="#96BE32"/><path d="M18.9,141.9 23,137.4 24.6,131.1 28.5,124.8 31.7,122.9 35.6,125.1 39.6,127.9 45.1,127.1 51,128.7 58.9,134.9 53.9,144.9Z" fill="#96BE32"/><path d="M27.1,66.8 30.2,65.2 32.9,65.7 31.8,68.4 27.9,69.6Z" fill="#96BE32"/><path d="M19.6,79.5 21.9,79.8 22.8,85.8 21.9,87.4 20.3,83.4Z" fill="#96BE32"/><path d="M-49.2,55.3 -46,50.5 -39.7,47.4 -34.2,48.2 -33.4,51.3 -37.3,55.3 -42.9,57.7 -47.6,57.7Z" fill="#BEEF66"/><path d="M-65,57.7 -61.1,54.5 -59.5,56.1 -63.5,58.8Z" fill="#BEEF66"/><path d="M-46.8,45.8 -44.5,44.2 -44.1,46.1 -46.4,47.1Z" fill="#BEEF66"/><path d="M-45.3,31.5 -42.1,30.8 -42.9,33.4Z" fill="#BEEF66"/><circle r="7.1" fill="#fff"/><path d="M-115.3,-80.2 -113.9,-81.6 -111.8,-82.7 -109.6,-84.7 -107.9,-83.4 -105.8,-82.1 -103.6,-82.5 -101.4,-82.4 -99.6,-82.2 -97,-81.5 -94,-80.1 -91.9,-79 -90.4,-79.7 -87.7,-79.5 -86.3,-79.8 -84.3,-80.2 -82.9,-79.2 -80.5,-78.6 -78,-78.3 -76.4,-79 -73.7,-79.1 -71.9,-79.5 -70,-79.2 -67.9,-79.6 -66.2,-80.5 -64.2,-82.4 -61.5,-83.4 -59.7,-83.5 -57.7,-84.3 -56,-84.4 -53.9,-84.7M-61.7,-83.5 -59.5,-83.3 -57.7,-84.2 -55.4,-84.1 -53.8,-84.2 -52.9,-85.8 -51.9,-87.4 -51.4,-89.8 -50.3,-91.6 -49.7,-93.2 -48.3,-94.5 -47.9,-96.9 -46.4,-98.4 -45.6,-100.1 -45.1,-102.4 -44.3,-104.4 -43.9,-106.3 -42.8,-108.7 -42.7,-110.4 -41.1,-112.1 -39.8,-114.1 -37.5,-115.4 -36.3,-116.2 -34.8,-118.3 -32.5,-119.8 -33.8,-117.8 -34.6,-115.9 -36.4,-114.3 -37.2,-112.6 -38.8,-110.1 -40.4,-108.8 -40.4,-106.6 -41.4,-103.6 -42,-101.7 -39.2,-101.8 -36.4,-100.9 -33.6,-99.4 -31.7,-98.5 -29.3,-98.6 -27.7,-99.3 -26.5,-97.9 -25.3,-95.9 -24.5,-94.5 -25.3,-92.9 -24.7,-90.5 -25.3,-88.2 -27.1,-86.4 -29.3,-85 -28.3,-83.2 -26.9,-81.1 -25.2,-82.6 -22.7,-83.4 -20.6,-84.2 -19.2,-82.1 -17.4,-81.1 -19.7,-80 -21.3,-79.4 -23.8,-77.9 -22.8,-75.4 -21.4,-74 -19.3,-72.2 -17.4,-71.6 -18.1,-69.8 -18.6,-67.7 -19.1,-66.4 -20.6,-64.5 -21.7,-63.3 -23.3,-62.4 -25.3,-61.3 -26.7,-60 -28.9,-59 -31.4,-57.6 -33.2,-57.3 -34.8,-57.1 -36.8,-56.1 -38.5,-55.9 -41.4,-55.7 -42.7,-55 -44.5,-54.2 -45.7,-53.1 -47.8,-52.5 -49.9,-51.8 -50.7,-50.2 -50.5,-47 -51.4,-45.5 -52.1,-44.1 -53,-42M-50.7,-103.2 -48.8,-102.4 -48.7,-100.9 -48.4,-98.5 -49.9,-96.9 -51.3,-99.3 -50.9,-101.7ZM-49.5,-92.9 -47.8,-91.7 -48.4,-87.4 -49.9,-88.2ZM-29.3,-123.3 -27.3,-124.6 -26.1,-126.2 -25,-127 -26.9,-123.8 -28.8,-122.2ZM-8.9,-133.5 -7.6,-133.5 -7.6,-132.3 -8.9,-132.3ZM15.2,-128.6 16.4,-128.6 16.4,-127.4 15.2,-127.4ZM-17.4,-90.6 -14.3,-91.1 -12.7,-89.8 -15.1,-89ZM-25.3,-100.5 -23,-100.5 -22.8,-99 -25,-99ZM-14.3,-81.1 -13.5,-82.9 -12.4,-85.2 -11.1,-86.6 -8.7,-86 -7.1,-85.8 -4.8,-85 -2.5,-82.8 -0.8,-81.9 0.5,-83.8 1.2,-85.6 1.6,-87.4 1,-89.8 0.9,-91.6 0.8,-94.5 2.7,-95.8 5.7,-96.5 7.9,-96.9 10.1,-97.5 12.6,-98.9 13.9,-99.7 15.3,-101.5 17.7,-102.4M-14.3,-81.1 -12.3,-80.3 -9.7,-78.1 -7.9,-77.1 -6.2,-75.6 -3.8,-74.4 -1.6,-73.9 0,-72.4 2,-70.8 3.8,-70.1 6.4,-69.6 7.9,-68.4 10.1,-70 11.8,-70.8 12.5,-68.6 14.2,-66.8 17.7,-67.6M-3.2,-64.5 -0.8,-65.1 1.2,-64.2 -0.8,-62.9ZM7.7,-95.3 9.6,-96.7 10.8,-97 12.4,-98.5 13.5,-99.7 16.1,-100.4 17.2,-101.7 20.1,-100.7 21.9,-99.3 24.3,-99 26.2,-100 28.3,-100.1 29.1,-101.8 31.4,-104 33.2,-105.9 33.8,-108 33.2,-110.2 32.7,-111.6 35.5,-112.6 36.2,-115.7 39.3,-116.7 40,-118.9 43.3,-119.8 44.7,-122.1 48,-123.3 49.5,-124.9 52.4,-125.7 54.4,-126.2 53.8,-124.5 54.3,-122.4 54.1,-120.1 53.6,-118.3 53.3,-116.2 52.6,-113.6 51.9,-112.1 50.8,-109.7 50.4,-108 48.2,-106.3 46.7,-105.3 44.9,-104 43.5,-103.5 41.6,-102.5 39.5,-101 37.8,-100.9 35.9,-99.2 33.3,-98.4 31.4,-96.9 29.7,-95.9 27.5,-95.3 25.9,-94.5 26,-92.4 25.1,-90.6 28.3,-91.4 29.9,-92.7 32.2,-93.7 33.2,-92 34.6,-90.6 37.3,-91.4 39.3,-92.2 41.4,-93 43.1,-94.7 44.9,-96.1 46.9,-95.5 48.6,-95.1 50.4,-94.5 52.4,-92.1 53.6,-90.6 56.3,-89.4 58.3,-89 59.4,-87.5 61.8,-86.3 62.5,-85.3 64.7,-84.2 66.5,-85.1 68.3,-85.5 70.7,-86 72.6,-85.8 75,-86 76.7,-87.1 78.2,-86.8 80.5,-87.4 83.9,-87 86,-87.4 85.7,-90.3 86,-92.2 84,-93.2 82.1,-94.5 81.3,-96.7 79.7,-97.4 78.9,-99.3 76.5,-98.5 77,-100.4 77.2,-102.6 78.1,-104.8 79.2,-106.3 80.2,-108.9 81.3,-111.1M83.3,-111.5 83.5,-109.3 82.4,-107 82.6,-104.1 81.8,-102.4 80.8,-100.5 82.4,-101.7 84,-103.8 83.9,-105.4 85.1,-107.8 86.5,-109.1M15,-128.7 16.2,-128.7 16.2,-127.4 15,-127.4ZM6.1,-67.6 7.7,-68.4 9.2,-69.3 11.7,-70 13.2,-68.2 14,-66.8 15.7,-66.3 18.4,-66.8 20.2,-66.1 21.9,-66.1 23,-64.4 23.5,-61.3 24.9,-60.1 27.3,-59.4 28.3,-58.1 29.5,-55.3 30.6,-53.4 31.6,-50.7 31.4,-48.6 34.1,-47.2 35.4,-45.5 37.5,-46.6 40.1,-47.9 42.5,-45.9 44.1,-44.7 46.2,-43.8 48.8,-42M111.8,-40.1 113.9,-40.4 116.1,-41.2 118.9,-41.2 120.8,-40.8 122.8,-39.5 124.5,-38.1 126.8,-37.3 127.9,-35.8 129.3,-34.4 130.8,-32.2 129.2,-34.9 127.7,-35.4 125.7,-37.2 123.7,-37.6 122.1,-39 120.2,-39.5 117.4,-39.5 114.5,-39.1 112.6,-39.2ZM20.4,-67 22,-65.8 23.5,-64.5 23.7,-62.1 24.2,-60.7 26.5,-59.4 28,-58.1 30.5,-55.6 30.9,-53.2 31.8,-51.2 33.3,-49.5 34.9,-47.4 37.4,-46.1 40,-48 41.6,-47.1 43.1,-44.8 46.3,-42.9 48.8,-42.3 48.2,-39.2 45,-37.9 45.2,-35.7 44.4,-34.1 46.3,-30.9 48.8,-29.7 49.3,-28.1 49.8,-25.6 49.5,-24 50.1,-21.1 51.4,-18.9 52.8,-17.9 54.3,-16.1 52.3,-18.5 50.2,-18.8 48.2,-19.5 44.4,-19.5 43.5,-17.7 41.9,-16.4 41.9,-12.6 40.6,-10 43.1,-8.7 44.4,-7.5 44.9,-5.3 46.3,-3.7 48.5,-1.2 49.5,0.7 51.4,1.7 53.3,3.3 54.7,5.1 55.2,7.7 57.7,9.6 60.9,8.9 61.2,11 61.5,13M24.8,-44.2 26.7,-42.3 28,-39.2 30.5,-40.4 33,-39.8 33.6,-37.3 31.8,-35.4 29.2,-36.6 27.3,-39.8 25.8,-41.1 24.8,-42.9ZM33.6,-45.2 35,-44.2 34.5,-41.9 33.4,-42.9ZM29.9,-3.1 30.9,-4.8 32.8,-6.3 34.9,-7.5 35.8,-8.9 38.1,-10 39.6,-7.8 38.9,-5.9 37.4,-3.7 35.8,-2.2 34.3,-0.5 31.1,-0.9ZM53.3,3 55.2,5.5 55.2,9.3 57.7,10.6 59.6,8.1 61.5,9.3 60.2,12.5 62.8,13.8 60.9,15.7 58.5,15.4 56.4,15.7 54.5,17.4 53.5,18.8 55.7,18.4 58.3,18.2 60.4,18.7 63.4,17.9 65.4,18.5 67.6,18 69.1,18.8 71.2,20.6 73.5,21.4 75.4,24 77.1,25.5 75.8,26.8 74,25.6 72.9,23.9 70.3,22.4 68.5,21.4 65.6,20.5 63.4,20.5 61.1,20.5 59.6,20.7 61.5,23.9 63.8,25.3 65.9,26 68.7,27.3 67.6,28.5 65.3,29.8 63.5,31.6 60.9,32.7 59,34.3 57.3,34.6 59.9,35.1 62.1,35.3 63,37.8 61.7,39.5 60.9,41 59,42.9 58.5,44.3 57.7,46.7 56.6,49.4 56.4,51.7 55.2,54.9 56.4,57.4 55.2,59.3 52.6,58.7 52.2,60.6 51.8,62.5 53,63.6 55.2,65 56.4,66.9 53.9,67.6 54.8,69.5 51.4,71.1 50.2,69.5 48.2,67.8 46.2,67.7 44.4,66.2 41.9,65.7 44.3,64.9 45.7,64 47.8,63.3 50.1,62.5 52,60 50.1,58.1 47.6,57.8 45.4,57.1 43.1,57.2 41.1,57.4 38.1,58.1 35.8,58.2 33,57.4 31.2,57.5 29.7,58.1 27.3,58.7 26.6,60.3 24.5,61.7 23.5,63.1 22.2,64.7 21,66.9 19.7,68.8 18.7,70.6 17.2,73.3 17.3,75.3 18.5,77.7 17.5,80.9 17.8,83M52.9,45.8 54.5,45.5 55.2,47.1 53.9,48.1 52.8,47.3ZM40.9,16.3 43.1,16.3 44.3,18.3 44.4,20.7 44.8,23.2 45.7,24.3 46.3,26.4 48.2,29.4 48.8,31.5 50.7,32.9 52,34.6 54.5,35.9 53.9,37.8 52.1,38.6 50.1,38.4 49.2,36.8 46.9,35.3 46.2,33.4 45.1,31.5 43.8,30.2 42.6,28.1 42.5,26.9 41.6,24.5 40.5,22.1 40.6,19.5ZM22.3,20.7 23.3,19 24.8,16.9 25.3,15 26.7,13.1 28,15 27.4,17.3 26.7,18.8 25.7,21 24.2,22ZM8.3,32.7 9.9,32 11.5,30.2 14.7,30.2 14.7,33.4 13.4,35.9 16.6,37.8 15.9,39.7 13.4,38.4 12.5,41.2 12.8,43.5 12,41.5 10.2,39.7 9.5,38 9,35.9ZM53.3,76.4 55.3,78 57.7,78.3 59,80.2 56.4,80.5 53.9,78.3ZM49.7,85.2 52.1,83.3 54.4,84.4 54.1,87.5 51.8,88.6 49.9,87.5ZM54.4,76.9 56,76.4 58.1,78.8 57.3,80.4 55.5,79.1ZM-12.3,94 -10.9,94 -10.9,95.3 -12.3,95.3ZM-41.7,15.7 -40.3,14 -38.5,12.5 -36.8,12.6 -33.8,13.2 -32.2,14.1 -29.8,13.6 -28.5,13.4 -26.5,13.5 -24.3,13.3 -21.8,14.1 -20.2,15.4 -18,16 -16.4,16.4 -14.8,18.5 -13.2,19.5 -10.8,21.2 -10.3,23.2 -9.2,25.2 -11.6,26.7 -9.2,27.9 -6.9,28.3 -7.2,29.9 -8.4,32.3 -9.7,33.3 -10.4,35.3 -11.6,37 -12.6,39.2 -14.1,40.2 -14.8,42.6 -15.7,44.1 -16.4,46.1 -17.1,48.1 -18.5,50 -21.1,52.1 -22.7,54.6 -24.3,56 -25.6,57 -27.4,58.4 -26.6,60.8 -28.9,61.8 -29.8,63.1 -31.4,63.8 -33.8,64.7 -35.7,64.8 -38.5,63.9 -40.3,64.7 -43.2,65.5 -45.1,66 -47.9,66 -49.6,66.3 -51.7,64.9 -54.3,63.9 -55.9,65.1 -57.3,66.1 -59.1,67.1 -60.2,68.5 -62.3,68.5 -63.8,70.2 -65.5,71.4 -67,71.8 -68.6,73.4 -70.2,74 -72.5,74.2 -73.2,72.2 -73.1,69.5 -74.1,67.9 -73.3,66.4 -73.5,63.3 -72.5,61.5 -71.1,59.7 -70.6,57.9 -69.4,55.2 -67.9,52.9 -66.2,51.4 -65.4,49.7 -63.7,49 -62.8,46.9 -60.7,45.7 -58.1,44.9 -55.9,44.1 -55.8,41.8 -56.7,40.2 -54.4,39.5 -52.7,38.6 -51.6,36.9 -50.4,35.4 -49,33.2 -47.2,32.3 -45.5,29.7 -44,28.3 -42.8,26.3 -41.7,23.6 -42.8,21.6 -43.2,18.8ZM-52,-45 -53.6,-41.8 -55.9,-40.7 -57.6,-39.5 -58.4,-36.7 -61.1,-35.1 -62.1,-33.8 -64.3,-32.7 -65.5,-30.4 -68.2,-32.3 -70.2,-30.4 -71,-26.8 -73,-24.4 -71,-23.2 -69,-24.4 -68.6,-21.3 -70.6,-18.9 -73.4,-17.3 -75.4,-14.9 -75.8,-12.2 -73.4,-10.2 -71.4,-11.4 -69.8,-10.2 -71.8,-7.8 -74.6,-9 -76.6,-8.2 -74.6,-6.2 -71,-7 -68.2,-8.2 -65.5,-7.8 -63.1,-5.4 -64.7,-3.9 -67.9,-2.7 -71,-0.7 -73.4,1.7 -76.6,2.5 -78.9,4.1M-65.5,-30.4 -61.9,-30.4 -61.7,-28.3 -61.5,-26.4 -59.9,-29.6 -58.3,-30 -56,-30.4 -53.6,-30 -52,-27.2 -52.4,-24.4 -54.4,-21.3 -55.6,-18.1 -54.8,-15.3 -57.6,-16.1 -59,-16.4 -61.5,-16.5 -64.7,-15.3 -66.7,-13.4 -69,-15.3 -69.4,-18.9 -68.2,-21.3 -68.6,-24.4 -67.5,-28ZM-54.4,-35.1 -52.1,-35.5 -49.7,-35.5 -47.7,-32.3 -44.9,-30.4 -46.1,-27.2 -48.9,-24.8 -51.2,-25.2 -52,-28 -53.6,-30.4 -54.8,-33.1ZM-62.3,-10.6 -59.9,-11.2 -58.4,-12.6 -55.6,-11 -54.4,-8.6 -57.6,-7.4 -61.1,-7.8ZM-58.8,-4.7 -56,-5.8 -54,-3.9 -54.8,-1.1 -57.6,-1.5ZM-41.7,-25.2 -39,-26.4 -37.8,-21.3 -38.6,-18.9 -41,-21.3 -42.5,-22.8ZM-48.5,-21.3 -45.7,-22.1 -43.7,-20.5 -44.1,-17.3 -47.3,-16.9 -48.9,-18.9ZM-39.4,-17.3 -37,-17.7 -35.8,-14.9 -38.2,-13.8ZM-48.9,-13.4 -44.1,-12.6 -44.5,-10.2 -48.1,-10.2ZM-49.7,-9 -46.1,-9 -46.5,-7 -49.3,-7ZM-43.3,-11.8 -38.6,-11.4 -39,-9.4 -42.5,-9.4ZM-52,-5.4 -48.9,-5.4 -49.3,-3.5 -51.6,-3.5ZM-45.5,1.2 -43.7,0.3 -42.4,-1.4 -40.7,-1.9 -38.3,-1.3 -36.7,-2 -34.8,-2.7 -31.6,-3.3 -29.8,-1.7 -28.4,-0.6 -26.5,1.2 -25.2,3.1 -24.1,3.6 -22.7,5.6 -21.9,7.7 -21.5,10 -22.7,11.2 -24,13.2 -26.1,12.5 -27.8,12.6 -29.4,13.1 -31.6,13.8 -33.6,12.2 -36.7,11.3 -38.7,9.9 -41.7,8.8 -43.8,7.2 -44.9,5.6 -45.5,2.9ZM-51.9,-1.4 -50.3,-1.6 -48.1,-2 -47.1,0 -46.8,2.4 -47.4,5.5 -47.4,7.5 -50.6,8.8 -51.9,7.2 -52.5,5 -52.6,2.3 -52.5,1.2ZM-79.3,4.6 -81.8,5.3 -85.6,5.3 -88.1,3.4 -89.8,1.8 -90.7,-0.4 -92.6,-2.7 -94.5,-3.6 -96.6,-6.2 -98.3,-7.4 -100.4,-8.8 -103.3,-9.3 -105.6,-8.7 -107.1,-8.9 -109,-7.8 -111.6,-5.5 -113.2,-4.5 -114.7,-3 -115.2,-1.2 -115.4,0.5 -116.6,2.7 -117.6,4.9 -119.1,7.2 -120.4,8.7 -121,11.6 -121,15.4 -122.8,15.4 -124.8,16.6 -127,17.5 -128.6,17.9 -130.5,19.3 -131.6,21.6 -133.7,23 -131.3,24.8 -129.9,26.1 -127.7,24.9 -124.8,24.2 -123,24 -120.4,22.3 -117.9,23.6 -115.6,25 -114.1,26.1 -112.3,25.7 -109.7,24.2 -108.5,22.8 -105.9,21.7 -104.3,22.5 -102.1,22.3 -99.3,21.5 -97.6,20.4 -96,19.7 -93.8,19.2 -93.7,21.4 -92.6,23 -92.3,25.4 -92.6,27.4 -93.5,29.2 -95.1,31.2 -95.2,33.5 -96.4,35 -98.9,36.9 -100.7,38.6 -101.4,40.7 -98.3,42.6 -96.9,43.3 -94.5,42.7 -92.6,43.2 -94.2,45.3 -94.5,47 -95.7,48.8 -97.6,50.8 -99.1,52.5 -100.8,54 -102.3,55 -103.3,57.2 -104.4,59.2 -104.6,60.9 -104.6,63.3 -104,65M-116.5,20.4 -114.5,20.4 -114.2,22.2 -116.2,22.5ZM-129.1,17.9 -127.9,18.2 -128.1,19.4 -129.3,19.2ZM-95.5,10.3 -93.5,11.8 -93.7,13.1 -95.2,11.6ZM-95.5,15.9 -93.5,16.1 -93.5,17.4 -95.5,17.2ZM-85.6,5.3 -87.6,5.1 -90,5.3 -91.3,8.4 -88.8,10.9 -88.8,12.8 -89.4,14.7 -88.1,13.8 -87,11.4 -85.6,10.3 -84.8,9 -83.5,7 -81.8,5.9M-91.9,5.5 -89.2,4.6 -87.4,4.4 -84,5.2 -81.9,5 -78.6,6.6 -77.4,5.5 -75.3,4.4 -74.2,2.4 -72.5,1.1 -70.5,0.8 -68.6,0 -66.5,-0.1 -64.2,0.5 -61.8,1 -59.8,1.1 -57.6,2.6 -55.9,3.3 -54.8,6.6 -54.2,9.9 -55.9,13.3 -57.5,12.1 -58.2,13.9 -58.6,16.6 -59.8,18.4 -60.3,21 -61.7,22.5 -63.1,24.3 -64.6,25 -66.4,26.5 -66.3,28.5 -67,31 -67.9,33.8 -69.2,35.4 -70.7,36.3 -72.5,37.6 -74.7,36.5 -76.4,33.7 -78.6,36.5 -80.8,34.3 -83,32.1 -83.6,35.6 -84.1,37.6 -86.9,38.7 -88.5,35.4 -87.8,33.5 -86.9,31 -85.9,28.7 -85.8,26.5 -84.6,25 -84.1,22.1 -84.8,19.9 -85.2,18.2 -81.9,18.8 -80.9,21 -79.7,22.1 -76.4,23.2 -74.8,22 -72.5,21.6 -71.7,19.7 -69.7,17.7 -71.9,16 -75.3,17.7 -76.4,14.4 -77.7,12.2 -79.7,11 -83,9.4 -84.9,10 -86.3,11.6 -88.2,12.3 -89.7,13.8 -90.9,11.7 -91.3,9.9 -91,8.1ZM-102,40 -100.9,41.7 -99.7,43.2 -97.6,43.1 -95.7,43.2 -93.3,44 -94.2,46 -95.4,47.3 -96.5,49.5 -97.2,51.5 -99.1,52.8 -100.4,55 -102,56.2 -104.4,57.4 -105.2,60.2 -105.2,62.9 -105.3,65 -106.8,67.7 -107.1,69.7 -107.6,71.6 -109.3,73.1 -111.5,75.6 -114.1,76.4 -116.3,76.4M-121.5,71 -119.2,70.8 -116.3,70.9 -114.2,72 -112.9,72.8 -111.5,74 -113.3,75.4 -115.5,76.7 -117.5,75.3 -119,75.1 -120.2,73.5ZM-91,-42.4 -88.5,-45 -88.2,-43.3 -87.2,-41.2 -86,-39.3 -87.9,-36.7 -87.2,-33.6 -88.5,-30.4 -89.6,-32.5 -89.4,-34.2 -90.1,-36.4 -90.4,-38 -90.9,-40.6ZM-101.8,-38 -100.5,-39.3 -99.4,-37.7 -98,-35.5 -99.9,-32.3 -101.5,-32.9 -102.2,-35.5ZM-113.8,-26.6 -111.3,-26 -109.1,-24.4 -107.5,-23.5 -109.1,-22.2 -111.2,-22.9 -112.6,-24.3ZM-138.5,-19.7 -136,-21.1 -133.4,-22.2 -131.3,-23.5 -128.4,-24.3 -125.8,-23.8 -128.1,-22.1 -129.6,-20.9 -132,-19.5 -134.7,-19 -137.9,-18.4ZM-137.9,-17.1 -135.4,-17.5 -134.6,-18.6 -132.2,-19 -129.5,-19 -128.4,-19.8 -125.8,-20.3 -124.6,-18.4 -126.6,-18 -128.4,-16.5 -130.7,-16.5 -132.3,-16.1 -134.7,-15.2 -137.9,-15.5ZM-73.9,-44.3 -72,-46.2 -70.8,-43.1 -69.5,-45 -67.6,-46.2 -66.6,-44.3 -67.4,-42.8 -67.6,-40.5 -68.9,-38 -70.8,-39.9 -72,-38 -73.3,-40.5 -73.8,-42.7ZM-99.6,-87.7 -96.3,-88.4 -94.6,-87 -91.8,-86 -91.3,-84.1 -94.8,-85.3 -98.3,-86.5ZM-92.3,-81.5 -89.3,-83.5 -87.7,-82.6 -86.3,-81 -83.3,-83 -81.9,-81.3 -80.3,-79.5 -77.8,-81 -76.3,-78 -78.1,-77.8 -80.3,-78.5 -83.3,-80 -86.3,-78.5 -89.3,-80ZM-41.5,-24.9 -39,-26.5 -37.4,-23 -37.7,-19.9 -39.6,-20.5 -41.2,-22.4ZM-48.1,-20.5 -44.7,-22.4 -41.5,-21.5 -41.8,-18.6 -44.7,-17.3 -47.2,-17.7 -48.5,-18.9ZM-39.9,-17.3 -37.1,-17.7 -35.8,-15.8 -36.7,-13.9 -39,-14.2 -39.9,-15.8ZM-49.1,-9.7 -45.3,-10.1 -44.7,-7.8 -47.8,-7.2 -49.4,-8.2ZM-51.6,-5.3 -48.8,-5.6 -48.5,-3.7 -51,-3.4ZM-39.6,-9.7 -35.8,-10.4 -35.2,-8.5 -37.7,-6.9 -39.6,-7.8ZM-43.4,-5.3 -39.6,-5.9 -39,-4.1 -42.1,-3.4ZM-46.6,-15.4 -44,-15.8 -43.1,-13.5 -44.7,-11.6 -46.9,-12.3ZM-45.9,-2.2 -41.5,-2.8 -35.2,-2.8 -30.1,-1.8 -26.3,1 -28.8,-0.3 -32.6,1.6 -36.4,2.9 -40.2,1.6 -44.7,1ZM3.3,139.6 2.5,136.8 1.3,134.4 3.3,132.8 3.3,130.1 0.9,128.9 -0.7,126.1 -2.3,122.9 -3.8,119.8 -5.4,117.8 -6.2,115.4 -4.2,113.8 -3.8,111.5 -6.2,110.3 -5.8,108.3 -8.6,107.8 -10.6,107.9 -13.7,108.3 -14.1,110.7 -12.5,111.9 -12.9,114.2 -11.3,115.8 -12.1,118.6 -10.2,120.2 -7.8,121.4 -7.4,123.7 -9,125.3 -7.4,126.9 -9.8,127.7 -10.2,130.5 -11.3,132.4 -9.4,133.6 -7,134.4 -9,135.6 -10.6,136.8 -12.1,138.8 -9.4,137.6 -6.2,137.2 -3.8,136.6 -1.5,137.2 0.4,137.5 3.3,137.2M-24,130.1 -22.7,129 -21.6,126.9 -22,123.7 -19.7,121.8 -17.3,119.4 -14.5,119.4 -12.9,121 -12.9,123.7 -13.7,126.9 -14.5,129.7 -16.5,131.2 -19.7,132.4 -22.4,132.4 -24,131.2ZM11.4,129.3 12.6,129 12.9,130.4 11.8,130.9ZM22.8,63 21.6,64.8 20.7,66.4 19.6,68.5 18.9,70.5 18.1,72.4 17.3,74.1 17.1,76 17.4,78.2 16.7,79.7 16.5,82 15.6,84.3 15.5,85.9 14.9,88.3 13.6,89.6 12.1,91.7 10.1,93.1 9.8,95.5 8.6,97.8 8.7,99.4 8.9,101.6 9.3,104.1 10.5,106.5 11.7,108.1 13.3,108.4 15.7,108.9 17.2,107 18.8,104.9 22,106.5 22.1,108.3 23.6,110.5 24.5,112.7 25.6,114 26.8,115.2 29.1,115.2 31.4,113.2 32.2,110 31.4,106.4 31.6,103.9 32.2,102.5 33.4,98.9 31.4,96.6 29.9,94.2 28.7,93 28.3,89.9 29.3,87.6 30.2,86.7 30.7,84.4 31.5,81 31.5,78.8 32.3,75.7 34.7,74.9 36.2,78 36.3,79.9 35,81.3 34.7,83.6 34.4,85.5 34.8,87.5 35.5,89.9 36.9,91.8 37.8,93.1 39.5,92.4 41.8,92.3 43.6,90.8 45.7,89.1 47.3,88.2 49.7,88.3 52.1,86.7 52,89.2 51.3,90.7 48.8,91.9 47.3,93.1 44.9,95.4 42.5,97.4 43.3,100.1 45.7,99.7 46.9,102.1 45.7,104.1 43.7,103.3 42.1,102.5 41.7,105.7 42.5,108.8 42.9,112.4 41.3,115.2 38.9,116.3 36.2,116.7 34.9,118.6 33.4,119.5 30.6,121.1 28.7,119.9 26.3,120.7 24.7,122.7 23.5,120.3 21.9,119.1 20.8,116.7 21.1,113.6 20.4,110.8 17.2,112.4 16,114.8 16.8,117.5 18,119.9 18.8,122.7 17.6,124.6 14.8,125.8 12.4,127 10.9,129.4 9.7,132.6 7.7,134.9 7,135 6.2,137.6 4.6,139.8M21.1,116.7 23.1,115.5 25.5,116.3 25.9,118.3 24.3,119.9 22.3,119.5ZM35,104.9 36,104.7 36.3,107.4 35.2,107.7ZM11.7,129.2 12.8,128.9 13.1,130.2 12,130.5ZM-36.7,-1.6 -35.6,0.3 -34.1,2.4 -32.9,5 -31,6.9 -30.1,3.7 -31.5,1 -32.6,-0.7 -35.2,-0.8ZM-42.4,1.2 -39.2,3.7 -35.4,4.7M-27.8,2.7 -26.5,7.5 -24,11.3M-47.8,-1.1 -45.5,-0.6 -45.6,1.4 -45.3,3.7 -46,5.3 -46.2,7.5 -47.9,6.7 -47.3,4.7 -48,2.5 -47.9,1.2ZM-128.7,55.1 -125.2,62.3 -120.9,69.4 -115.9,76.6M-35.2,77.5 -34,76.5 -32.8,74.4 -30.1,75.6 -28.1,74.1 -24.9,75.9 -22.2,75.6 -20.3,78.8 -20.9,82.3 -22.6,83.2 -24.1,85.1 -26.6,85.7 -28.1,86.2 -31.2,84.7 -33.3,81.5 -34.2,79.3ZM-63.1,3.8 -61.7,3.2 -59.2,2.7 -56.7,4.4 -57.3,7.5 -60.3,8.3M-59.2,10.5 -56.4,9.9 -54.8,11.6 -56.4,13.8M-82.3,20.4 -79.8,21.7 -77.2,23 -73.4,23 -71.2,21.7 -69.6,19.2 -68.1,16.6 -67.1,13.5 -67.4,10.3 -68.1,7.2 -67.1,4 -65.2,1.5 -62,-0.1 -60.4,-0.6 -58.2,0.2 -55.7,2.1 -54.5,5.3 -54.5,9.1 -55.4,12.2 -57.3,13.5 -58.2,15.4 -59.2,17.9 -60.5,21.1 -61.4,22.9 -62,25M-62,3.7 -58.9,3 -57,4M-60.1,9.4 -58.2,8.7 -56,9.4 -55.7,11.6 -57,12.8 -57.9,11.6 -59.2,10ZM-78.2,3.4 -76,2.1 -72.8,1.5 -71.9,-0.1 -69.6,-1.7 -67.7,-3 -64.9,-4.2 -62,-5.5 -63.3,-3.6 -65.8,-1.4 -66.5,0.9 -66.4,2.3 -67.4,4.3 -69.6,5.3 -71.1,5.2 -73.4,5.6 -76.6,5.3ZM-82.3,5.3 -80.4,5.9 -80.7,8.4 -78.5,10.3 -76,10.9 -72.8,9.4 -69.6,9.1 -68.1,7.8M-76,17.9 -74.1,16.6 -71.9,17.3 -71.2,18.9 -72.8,20.1 -75,19.8ZM-58.9,-4.2 -56.4,-4.9 -54.5,-3.3 -55.1,-1.4 -57.3,-0.8 -58.9,-2.3Z" fill="none" stroke="#000" stroke-width="1.25" stroke-linejoin="round"/></g><circle r="140.3" fill="none" stroke="#111" stroke-width="0.85"/></g>
<text class="s" x="0.8" y="417.9" font-size="13.8" textLength="32.9" lengthAdjust="spacingAndGlyphs">MEAN</text>
<text class="s" x="35.3" y="417.9" font-size="13.8" textLength="8.6" lengthAdjust="spacingAndGlyphs">=</text>
<text class="s" x="52.7" y="417.9" font-size="13.8" textLength="39.9" lengthAdjust="spacingAndGlyphs">161.70</text>
<text class="s" x="107.2" y="417.9" font-size="13.8" textLength="22.3" lengthAdjust="spacingAndGlyphs">Min</text>
<text class="s" x="130" y="417.9" font-size="13.8" textLength="8.4" lengthAdjust="spacingAndGlyphs">=</text>
<text class="s" x="146.7" y="417.9" font-size="13.8" textLength="40.6" lengthAdjust="spacingAndGlyphs">121.60</text>
<text class="s" x="201.3" y="417.9" font-size="13.8" textLength="23.7" lengthAdjust="spacingAndGlyphs">Max</text>
<text class="s" x="226.3" y="417.9" font-size="13.8" textLength="8.4" lengthAdjust="spacingAndGlyphs">=</text>
<text class="s" x="242.5" y="417.9" font-size="13.8" textLength="41.8" lengthAdjust="spacingAndGlyphs">207.65</text>
<rect x="6.2" y="427.5" width="17" height="13" fill="#9370DB" stroke="#000" stroke-width="0.6"/><rect x="23.2" y="427.5" width="17" height="13" fill="#0000CD" stroke="#000" stroke-width="0.6"/><rect x="40.2" y="427.5" width="17" height="13" fill="#4169E1" stroke="#000" stroke-width="0.6"/><rect x="57.3" y="427.5" width="17" height="13" fill="#6E96EE" stroke="#000" stroke-width="0.6"/><rect x="74.3" y="427.5" width="17" height="13" fill="#B0E0E6" stroke="#000" stroke-width="0.6"/><rect x="91.3" y="427.5" width="17" height="13" fill="#20B2AA" stroke="#000" stroke-width="0.6"/><rect x="108.3" y="427.5" width="17" height="13" fill="#BEEF66" stroke="#000" stroke-width="0.6"/><rect x="125.4" y="427.5" width="17" height="13" fill="#96BE32" stroke="#000" stroke-width="0.6"/><rect x="142.4" y="427.5" width="17" height="13" fill="#F5E6BE" stroke="#000" stroke-width="0.6"/><rect x="159.4" y="427.5" width="17" height="13" fill="#DEB887" stroke="#000" stroke-width="0.6"/><rect x="176.4" y="427.5" width="17" height="13" fill="#FFE100" stroke="#000" stroke-width="0.6"/><rect x="193.5" y="427.5" width="17" height="13" fill="#FFA500" stroke="#000" stroke-width="0.6"/><rect x="210.5" y="427.5" width="17" height="13" fill="#FF4500" stroke="#000" stroke-width="0.6"/><rect x="227.5" y="427.5" width="17" height="13" fill="#B22222" stroke="#000" stroke-width="0.6"/><rect x="244.5" y="427.5" width="17" height="13" fill="#FFB6C1" stroke="#000" stroke-width="0.6"/><rect x="261.6" y="427.5" width="17" height="13" fill="#FF1493" stroke="#000" stroke-width="0.6"/>
<text class="n" x="23.2" y="456.6" font-size="11.9" text-anchor="middle">0</text>
<text class="n" x="50.4" y="456.6" font-size="11.9" textLength="13.7" lengthAdjust="spacing">40</text>
<text class="n" x="84.5" y="456.6" font-size="11.9" textLength="13.7" lengthAdjust="spacing">80</text>
<text class="n" x="114.9" y="456.6" font-size="11.9" textLength="20.9" lengthAdjust="spacing">150</text>
<text class="n" x="149" y="456.6" font-size="11.9" textLength="20.9" lengthAdjust="spacing">250</text>
<text class="n" x="183" y="456.6" font-size="11.9" textLength="20.9" lengthAdjust="spacing">300</text>
<text class="n" x="217.1" y="456.6" font-size="11.9" textLength="20.9" lengthAdjust="spacing">340</text>
<text class="n" x="251.1" y="456.6" font-size="11.9" textLength="20.9" lengthAdjust="spacing">380</text>
<text class="s" x="297.8" y="417.9" font-size="13.8" textLength="32.9" lengthAdjust="spacingAndGlyphs">MEAN</text>
<text class="s" x="332.3" y="417.9" font-size="13.8" textLength="8.6" lengthAdjust="spacingAndGlyphs">=</text>
<text class="s" x="349.7" y="417.9" font-size="13.8" textLength="39.9" lengthAdjust="spacingAndGlyphs">157.18</text>
<text class="s" x="404.2" y="417.9" font-size="13.8" textLength="22.3" lengthAdjust="spacingAndGlyphs">Min</text>
<text class="s" x="427" y="417.9" font-size="13.8" textLength="8.4" lengthAdjust="spacingAndGlyphs">=</text>
<text class="s" x="443.7" y="417.9" font-size="13.8" textLength="40.6" lengthAdjust="spacingAndGlyphs">118.17</text>
<text class="s" x="498.3" y="417.9" font-size="13.8" textLength="23.7" lengthAdjust="spacingAndGlyphs">Max</text>
<text class="s" x="523.3" y="417.9" font-size="13.8" textLength="8.4" lengthAdjust="spacingAndGlyphs">=</text>
<text class="s" x="539.5" y="417.9" font-size="13.8" textLength="41.8" lengthAdjust="spacingAndGlyphs">206.12</text>
<rect x="303.2" y="427.5" width="17" height="13" fill="#9370DB" stroke="#000" stroke-width="0.6"/><rect x="320.2" y="427.5" width="17" height="13" fill="#0000CD" stroke="#000" stroke-width="0.6"/><rect x="337.2" y="427.5" width="17" height="13" fill="#4169E1" stroke="#000" stroke-width="0.6"/><rect x="354.3" y="427.5" width="17" height="13" fill="#6E96EE" stroke="#000" stroke-width="0.6"/><rect x="371.3" y="427.5" width="17" height="13" fill="#B0E0E6" stroke="#000" stroke-width="0.6"/><rect x="388.3" y="427.5" width="17" height="13" fill="#20B2AA" stroke="#000" stroke-width="0.6"/><rect x="405.3" y="427.5" width="17" height="13" fill="#BEEF66" stroke="#000" stroke-width="0.6"/><rect x="422.4" y="427.5" width="17" height="13" fill="#96BE32" stroke="#000" stroke-width="0.6"/><rect x="439.4" y="427.5" width="17" height="13" fill="#F5E6BE" stroke="#000" stroke-width="0.6"/><rect x="456.4" y="427.5" width="17" height="13" fill="#DEB887" stroke="#000" stroke-width="0.6"/><rect x="473.4" y="427.5" width="17" height="13" fill="#FFE100" stroke="#000" stroke-width="0.6"/><rect x="490.5" y="427.5" width="17" height="13" fill="#FFA500" stroke="#000" stroke-width="0.6"/><rect x="507.5" y="427.5" width="17" height="13" fill="#FF4500" stroke="#000" stroke-width="0.6"/><rect x="524.5" y="427.5" width="17" height="13" fill="#B22222" stroke="#000" stroke-width="0.6"/><rect x="541.5" y="427.5" width="17" height="13" fill="#FFB6C1" stroke="#000" stroke-width="0.6"/><rect x="558.6" y="427.5" width="17" height="13" fill="#FF1493" stroke="#000" stroke-width="0.6"/>
<text class="n" x="320.2" y="456.6" font-size="11.9" text-anchor="middle">0</text>
<text class="n" x="347.4" y="456.6" font-size="11.9" textLength="13.7" lengthAdjust="spacing">40</text>
<text class="n" x="381.5" y="456.6" font-size="11.9" textLength="13.7" lengthAdjust="spacing">80</text>
<text class="n" x="411.9" y="456.6" font-size="11.9" textLength="20.9" lengthAdjust="spacing">150</text>
<text class="n" x="446" y="456.6" font-size="11.9" textLength="20.9" lengthAdjust="spacing">250</text>
<text class="n" x="480" y="456.6" font-size="11.9" textLength="20.9" lengthAdjust="spacing">300</text>
<text class="n" x="514.1" y="456.6" font-size="11.9" textLength="20.9" lengthAdjust="spacing">340</text>
<text class="n" x="548.1" y="456.6" font-size="11.9" textLength="20.9" lengthAdjust="spacing">380</text>
<text class="s" x="448.5" y="587.8" font-size="13.3" textLength="21" lengthAdjust="spacingAndGlyphs">MIN</text>
<text class="s" x="477.4" y="587.8" font-size="13.3" textLength="8.4" lengthAdjust="spacingAndGlyphs">=</text>
<text class="s" x="500" y="587.8" font-size="13.3" textLength="36" lengthAdjust="spacingAndGlyphs">−6.45</text>
<text class="s" x="543.3" y="587.8" font-size="13.3" textLength="25" lengthAdjust="spacingAndGlyphs">MAX</text>
<text class="s" x="575.5" y="587.8" font-size="13.3" textLength="8.4" lengthAdjust="spacingAndGlyphs">=</text>
<text class="s" x="598.7" y="587.8" font-size="13.3" textLength="32.2" lengthAdjust="spacingAndGlyphs">12.75</text>
<rect x="509.5" y="612.4" width="33.4" height="14.1" fill="#FF1493" stroke="#000" stroke-width="0.6"/><rect x="509.5" y="626.5" width="33.4" height="14.1" fill="#FFB6C1" stroke="#000" stroke-width="0.6"/><rect x="509.5" y="640.6" width="33.4" height="14.1" fill="#B22222" stroke="#000" stroke-width="0.6"/><rect x="509.5" y="654.6" width="33.4" height="14.1" fill="#FF4500" stroke="#000" stroke-width="0.6"/><rect x="509.5" y="668.7" width="33.4" height="14.1" fill="#FFA500" stroke="#000" stroke-width="0.6"/><rect x="509.5" y="682.8" width="33.4" height="14.1" fill="#FFE100" stroke="#000" stroke-width="0.6"/><rect x="509.5" y="696.9" width="33.4" height="14.1" fill="#DEB887" stroke="#000" stroke-width="0.6"/><rect x="509.5" y="711" width="33.4" height="14.1" fill="#F5E6BE" stroke="#000" stroke-width="0.6"/><rect x="509.5" y="725" width="33.4" height="14.1" fill="#96BE32" stroke="#000" stroke-width="0.6"/><rect x="509.5" y="739.1" width="33.4" height="14.1" fill="#BEEF66" stroke="#000" stroke-width="0.6"/><rect x="509.5" y="753.2" width="33.4" height="14.1" fill="#20B2AA" stroke="#000" stroke-width="0.6"/><rect x="509.5" y="767.3" width="33.4" height="14.1" fill="#B0E0E6" stroke="#000" stroke-width="0.6"/><rect x="509.5" y="781.4" width="33.4" height="14.1" fill="#6E96EE" stroke="#000" stroke-width="0.6"/><rect x="509.5" y="795.5" width="33.4" height="14.1" fill="#4169E1" stroke="#000" stroke-width="0.6"/><rect x="509.5" y="809.5" width="33.4" height="14.1" fill="#0000CD" stroke="#000" stroke-width="0.6"/><rect x="509.5" y="823.6" width="33.4" height="14.1" fill="#9370DB" stroke="#000" stroke-width="0.6"/>
<text class="n" x="558.5" y="630.8" font-size="11.9" text-anchor="middle">35</text>
<text class="n" x="558.5" y="644.9" font-size="11.9" text-anchor="middle">30</text>
<text class="n" x="558.5" y="659" font-size="11.9" text-anchor="middle">25</text>
<text class="n" x="558.5" y="673.1" font-size="11.9" text-anchor="middle">20</text>
<text class="n" x="558.5" y="687.2" font-size="11.9" text-anchor="middle">15</text>
<text class="n" x="558.5" y="701.2" font-size="11.9" text-anchor="middle">10</text>
<text class="n" x="558.5" y="715.3" font-size="11.9" text-anchor="middle">5</text>
<text class="n" x="558.5" y="729.4" font-size="11.9" text-anchor="middle">0</text>
<text class="n" x="550.7" y="743.5" font-size="11.9" textLength="15.1" lengthAdjust="spacing">−5</text>
<text class="n" x="547.6" y="757.6" font-size="11.9" textLength="22" lengthAdjust="spacing">−10</text>
<text class="n" x="547.6" y="771.6" font-size="11.9" textLength="22" lengthAdjust="spacing">−15</text>
<text class="n" x="547.6" y="785.7" font-size="11.9" textLength="22" lengthAdjust="spacing">−20</text>
<text class="n" x="547.6" y="799.8" font-size="11.9" textLength="22" lengthAdjust="spacing">−25</text>
<text class="n" x="547.6" y="813.9" font-size="11.9" textLength="22" lengthAdjust="spacing">−30</text>
<text class="n" x="547.6" y="828" font-size="11.9" textLength="22" lengthAdjust="spacing">−35</text>
</svg></body></html>
